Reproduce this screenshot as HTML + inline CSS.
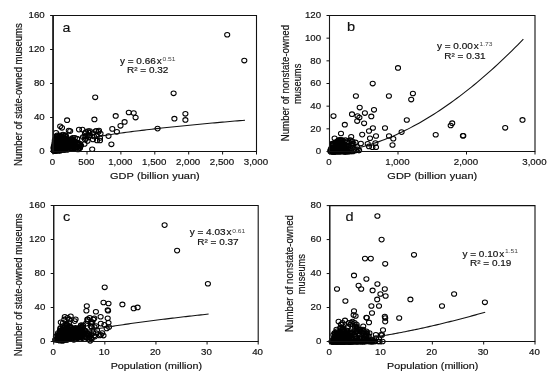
<!DOCTYPE html>
<html><head><meta charset="utf-8"><title>Figure</title>
<style>html,body{margin:0;padding:0;background:#fff}svg{display:block}</style></head>
<body>
<svg width="550" height="381" viewBox="0 0 550 381" font-family="Liberation Sans, sans-serif">
<rect width="550" height="381" fill="#fff"/>
<g opacity="0.999">
<g fill="none" stroke="#000" stroke-width="1.05">
<ellipse cx="59.1" cy="143.85" rx="2.55" ry="2.3"/>
<ellipse cx="59.25" cy="147.25" rx="2.55" ry="2.3"/>
<ellipse cx="56.48" cy="148.1" rx="2.55" ry="2.3"/>
<ellipse cx="72.29" cy="139.6" rx="2.55" ry="2.3"/>
<ellipse cx="71.1" cy="141.3" rx="2.55" ry="2.3"/>
<ellipse cx="63.53" cy="143.85" rx="2.55" ry="2.3"/>
<ellipse cx="54.91" cy="145.55" rx="2.55" ry="2.3"/>
<ellipse cx="64.57" cy="141.3" rx="2.55" ry="2.3"/>
<ellipse cx="54.87" cy="150.65" rx="2.55" ry="2.3"/>
<ellipse cx="56.6" cy="148.1" rx="2.55" ry="2.3"/>
<ellipse cx="62.77" cy="145.55" rx="2.55" ry="2.3"/>
<ellipse cx="64.71" cy="147.25" rx="2.55" ry="2.3"/>
<ellipse cx="62.8" cy="143" rx="2.55" ry="2.3"/>
<ellipse cx="57.35" cy="135.35" rx="2.55" ry="2.3"/>
<ellipse cx="65.07" cy="135.35" rx="2.55" ry="2.3"/>
<ellipse cx="57.5" cy="148.95" rx="2.55" ry="2.3"/>
<ellipse cx="58.67" cy="146.4" rx="2.55" ry="2.3"/>
<ellipse cx="65.86" cy="143" rx="2.55" ry="2.3"/>
<ellipse cx="58.2" cy="148.95" rx="2.55" ry="2.3"/>
<ellipse cx="57.89" cy="139.6" rx="2.55" ry="2.3"/>
<ellipse cx="56.85" cy="146.4" rx="2.55" ry="2.3"/>
<ellipse cx="63.82" cy="148.95" rx="2.55" ry="2.3"/>
<ellipse cx="60.87" cy="136.2" rx="2.55" ry="2.3"/>
<ellipse cx="54.45" cy="148.95" rx="2.55" ry="2.3"/>
<ellipse cx="59.91" cy="148.1" rx="2.55" ry="2.3"/>
<ellipse cx="64.48" cy="144.7" rx="2.55" ry="2.3"/>
<ellipse cx="55.25" cy="144.7" rx="2.55" ry="2.3"/>
<ellipse cx="66.27" cy="137.05" rx="2.55" ry="2.3"/>
<ellipse cx="61.35" cy="148.95" rx="2.55" ry="2.3"/>
<ellipse cx="65.68" cy="146.4" rx="2.55" ry="2.3"/>
<ellipse cx="58.18" cy="149.8" rx="2.55" ry="2.3"/>
<ellipse cx="56.38" cy="148.95" rx="2.55" ry="2.3"/>
<ellipse cx="75.4" cy="148.95" rx="2.55" ry="2.3"/>
<ellipse cx="55.26" cy="147.25" rx="2.55" ry="2.3"/>
<ellipse cx="54.58" cy="150.65" rx="2.55" ry="2.3"/>
<ellipse cx="63.21" cy="147.25" rx="2.55" ry="2.3"/>
<ellipse cx="55.98" cy="143.85" rx="2.55" ry="2.3"/>
<ellipse cx="72.13" cy="142.15" rx="2.55" ry="2.3"/>
<ellipse cx="62.29" cy="143" rx="2.55" ry="2.3"/>
<ellipse cx="65.72" cy="141.3" rx="2.55" ry="2.3"/>
<ellipse cx="64.98" cy="148.95" rx="2.55" ry="2.3"/>
<ellipse cx="64.8" cy="149.8" rx="2.55" ry="2.3"/>
<ellipse cx="57.45" cy="143" rx="2.55" ry="2.3"/>
<ellipse cx="54.7" cy="148.95" rx="2.55" ry="2.3"/>
<ellipse cx="70.84" cy="148.1" rx="2.55" ry="2.3"/>
<ellipse cx="65.02" cy="144.7" rx="2.55" ry="2.3"/>
<ellipse cx="62.93" cy="141.3" rx="2.55" ry="2.3"/>
<ellipse cx="61.36" cy="137.9" rx="2.55" ry="2.3"/>
<ellipse cx="57.35" cy="148.1" rx="2.55" ry="2.3"/>
<ellipse cx="71.18" cy="143" rx="2.55" ry="2.3"/>
<ellipse cx="56.63" cy="143" rx="2.55" ry="2.3"/>
<ellipse cx="79.02" cy="144.7" rx="2.55" ry="2.3"/>
<ellipse cx="55.41" cy="148.1" rx="2.55" ry="2.3"/>
<ellipse cx="59.67" cy="147.25" rx="2.55" ry="2.3"/>
<ellipse cx="77.71" cy="147.25" rx="2.55" ry="2.3"/>
<ellipse cx="74.88" cy="148.1" rx="2.55" ry="2.3"/>
<ellipse cx="56.92" cy="144.7" rx="2.55" ry="2.3"/>
<ellipse cx="63.1" cy="143.85" rx="2.55" ry="2.3"/>
<ellipse cx="61.59" cy="142.15" rx="2.55" ry="2.3"/>
<ellipse cx="59.52" cy="144.7" rx="2.55" ry="2.3"/>
<ellipse cx="65.24" cy="144.7" rx="2.55" ry="2.3"/>
<ellipse cx="67.38" cy="140.45" rx="2.55" ry="2.3"/>
<ellipse cx="62.93" cy="146.4" rx="2.55" ry="2.3"/>
<ellipse cx="58.53" cy="146.4" rx="2.55" ry="2.3"/>
<ellipse cx="69.45" cy="144.7" rx="2.55" ry="2.3"/>
<ellipse cx="53.94" cy="150.65" rx="2.55" ry="2.3"/>
<ellipse cx="62.28" cy="143" rx="2.55" ry="2.3"/>
<ellipse cx="62.23" cy="146.4" rx="2.55" ry="2.3"/>
<ellipse cx="66.12" cy="142.15" rx="2.55" ry="2.3"/>
<ellipse cx="63.19" cy="147.25" rx="2.55" ry="2.3"/>
<ellipse cx="59.95" cy="146.4" rx="2.55" ry="2.3"/>
<ellipse cx="60.17" cy="150.65" rx="2.55" ry="2.3"/>
<ellipse cx="58.03" cy="141.3" rx="2.55" ry="2.3"/>
<ellipse cx="55.86" cy="148.1" rx="2.55" ry="2.3"/>
<ellipse cx="79.59" cy="148.1" rx="2.55" ry="2.3"/>
<ellipse cx="58.62" cy="147.25" rx="2.55" ry="2.3"/>
<ellipse cx="65.77" cy="135.35" rx="2.55" ry="2.3"/>
<ellipse cx="53.86" cy="146.4" rx="2.55" ry="2.3"/>
<ellipse cx="55.28" cy="145.55" rx="2.55" ry="2.3"/>
<ellipse cx="55.2" cy="147.25" rx="2.55" ry="2.3"/>
<ellipse cx="73.69" cy="143.85" rx="2.55" ry="2.3"/>
<ellipse cx="61.87" cy="140.45" rx="2.55" ry="2.3"/>
<ellipse cx="61.51" cy="145.55" rx="2.55" ry="2.3"/>
<ellipse cx="71.28" cy="144.7" rx="2.55" ry="2.3"/>
<ellipse cx="55.91" cy="143.85" rx="2.55" ry="2.3"/>
<ellipse cx="59.05" cy="145.55" rx="2.55" ry="2.3"/>
<ellipse cx="66.68" cy="143" rx="2.55" ry="2.3"/>
<ellipse cx="65.93" cy="148.95" rx="2.55" ry="2.3"/>
<ellipse cx="55.17" cy="146.4" rx="2.55" ry="2.3"/>
<ellipse cx="56.39" cy="149.8" rx="2.55" ry="2.3"/>
<ellipse cx="55.24" cy="143" rx="2.55" ry="2.3"/>
<ellipse cx="56.46" cy="147.25" rx="2.55" ry="2.3"/>
<ellipse cx="55.93" cy="144.7" rx="2.55" ry="2.3"/>
<ellipse cx="56.6" cy="138.75" rx="2.55" ry="2.3"/>
<ellipse cx="70.37" cy="143.85" rx="2.55" ry="2.3"/>
<ellipse cx="54.5" cy="143" rx="2.55" ry="2.3"/>
<ellipse cx="59.97" cy="148.1" rx="2.55" ry="2.3"/>
<ellipse cx="63.57" cy="142.15" rx="2.55" ry="2.3"/>
<ellipse cx="79.75" cy="146.4" rx="2.55" ry="2.3"/>
<ellipse cx="78.73" cy="143" rx="2.55" ry="2.3"/>
<ellipse cx="57.06" cy="142.15" rx="2.55" ry="2.3"/>
<ellipse cx="61.33" cy="144.7" rx="2.55" ry="2.3"/>
<ellipse cx="78.12" cy="143.85" rx="2.55" ry="2.3"/>
<ellipse cx="54.16" cy="149.8" rx="2.55" ry="2.3"/>
<ellipse cx="54.64" cy="145.55" rx="2.55" ry="2.3"/>
<ellipse cx="62.86" cy="147.25" rx="2.55" ry="2.3"/>
<ellipse cx="60.5" cy="141.3" rx="2.55" ry="2.3"/>
<ellipse cx="61.08" cy="136.2" rx="2.55" ry="2.3"/>
<ellipse cx="60.18" cy="139.6" rx="2.55" ry="2.3"/>
<ellipse cx="57.31" cy="143" rx="2.55" ry="2.3"/>
<ellipse cx="54.61" cy="149.8" rx="2.55" ry="2.3"/>
<ellipse cx="54.51" cy="144.7" rx="2.55" ry="2.3"/>
<ellipse cx="55.72" cy="147.25" rx="2.55" ry="2.3"/>
<ellipse cx="59.43" cy="146.4" rx="2.55" ry="2.3"/>
<ellipse cx="57.61" cy="145.55" rx="2.55" ry="2.3"/>
<ellipse cx="60.84" cy="143" rx="2.55" ry="2.3"/>
<ellipse cx="70.56" cy="143.85" rx="2.55" ry="2.3"/>
<ellipse cx="55.66" cy="148.95" rx="2.55" ry="2.3"/>
<ellipse cx="71.68" cy="148.95" rx="2.55" ry="2.3"/>
<ellipse cx="57.59" cy="141.3" rx="2.55" ry="2.3"/>
<ellipse cx="67.73" cy="143.85" rx="2.55" ry="2.3"/>
<ellipse cx="67.89" cy="143" rx="2.55" ry="2.3"/>
<ellipse cx="55.84" cy="149.8" rx="2.55" ry="2.3"/>
<ellipse cx="57.43" cy="142.15" rx="2.55" ry="2.3"/>
<ellipse cx="57.71" cy="148.95" rx="2.55" ry="2.3"/>
<ellipse cx="56.97" cy="149.8" rx="2.55" ry="2.3"/>
<ellipse cx="59.85" cy="148.95" rx="2.55" ry="2.3"/>
<ellipse cx="63.26" cy="149.8" rx="2.55" ry="2.3"/>
<ellipse cx="62.95" cy="147.25" rx="2.55" ry="2.3"/>
<ellipse cx="54.53" cy="146.4" rx="2.55" ry="2.3"/>
<ellipse cx="59" cy="150.65" rx="2.55" ry="2.3"/>
<ellipse cx="56.64" cy="146.4" rx="2.55" ry="2.3"/>
<ellipse cx="58.15" cy="143" rx="2.55" ry="2.3"/>
<ellipse cx="67.18" cy="139.6" rx="2.55" ry="2.3"/>
<ellipse cx="62.94" cy="134.5" rx="2.55" ry="2.3"/>
<ellipse cx="66.17" cy="141.3" rx="2.55" ry="2.3"/>
<ellipse cx="54.37" cy="146.4" rx="2.55" ry="2.3"/>
<ellipse cx="75.8" cy="143.85" rx="2.55" ry="2.3"/>
<ellipse cx="54.77" cy="147.25" rx="2.55" ry="2.3"/>
<ellipse cx="56.49" cy="144.7" rx="2.55" ry="2.3"/>
<ellipse cx="59.83" cy="143" rx="2.55" ry="2.3"/>
<ellipse cx="69.16" cy="147.25" rx="2.55" ry="2.3"/>
<ellipse cx="60.01" cy="144.7" rx="2.55" ry="2.3"/>
<ellipse cx="68.14" cy="143.85" rx="2.55" ry="2.3"/>
<ellipse cx="59.42" cy="148.95" rx="2.55" ry="2.3"/>
<ellipse cx="58.6" cy="141.3" rx="2.55" ry="2.3"/>
<ellipse cx="61.23" cy="148.1" rx="2.55" ry="2.3"/>
<ellipse cx="72.75" cy="137.9" rx="2.55" ry="2.3"/>
<ellipse cx="53.92" cy="148.1" rx="2.55" ry="2.3"/>
<ellipse cx="63.83" cy="144.7" rx="2.55" ry="2.3"/>
<ellipse cx="64.73" cy="149.8" rx="2.55" ry="2.3"/>
<ellipse cx="71.05" cy="141.3" rx="2.55" ry="2.3"/>
<ellipse cx="57.21" cy="139.6" rx="2.55" ry="2.3"/>
<ellipse cx="55.36" cy="148.95" rx="2.55" ry="2.3"/>
<ellipse cx="62.65" cy="143.85" rx="2.55" ry="2.3"/>
<ellipse cx="58.42" cy="148.95" rx="2.55" ry="2.3"/>
<ellipse cx="71.11" cy="148.1" rx="2.55" ry="2.3"/>
<ellipse cx="55.48" cy="138.75" rx="2.55" ry="2.3"/>
<ellipse cx="67.95" cy="147.25" rx="2.55" ry="2.3"/>
<ellipse cx="62.41" cy="149.8" rx="2.55" ry="2.3"/>
<ellipse cx="57.05" cy="147.25" rx="2.55" ry="2.3"/>
<ellipse cx="64.73" cy="147.25" rx="2.55" ry="2.3"/>
<ellipse cx="59.81" cy="143.85" rx="2.55" ry="2.3"/>
<ellipse cx="63.37" cy="141.3" rx="2.55" ry="2.3"/>
<ellipse cx="62.01" cy="146.4" rx="2.55" ry="2.3"/>
<ellipse cx="67.69" cy="143.85" rx="2.55" ry="2.3"/>
<ellipse cx="56.8" cy="148.95" rx="2.55" ry="2.3"/>
<ellipse cx="60.56" cy="146.4" rx="2.55" ry="2.3"/>
<ellipse cx="61.62" cy="145.55" rx="2.55" ry="2.3"/>
<ellipse cx="61.76" cy="145.55" rx="2.55" ry="2.3"/>
<ellipse cx="55.66" cy="146.4" rx="2.55" ry="2.3"/>
<ellipse cx="71.36" cy="139.6" rx="2.55" ry="2.3"/>
<ellipse cx="59.45" cy="143.85" rx="2.55" ry="2.3"/>
<ellipse cx="56.38" cy="150.65" rx="2.55" ry="2.3"/>
<ellipse cx="60.95" cy="148.1" rx="2.55" ry="2.3"/>
<ellipse cx="67.09" cy="148.1" rx="2.55" ry="2.3"/>
<ellipse cx="53.9" cy="150.65" rx="2.55" ry="2.3"/>
<ellipse cx="58.49" cy="149.8" rx="2.55" ry="2.3"/>
<ellipse cx="57" cy="144.7" rx="2.55" ry="2.3"/>
<ellipse cx="64.48" cy="143.85" rx="2.55" ry="2.3"/>
<ellipse cx="60.43" cy="142.15" rx="2.55" ry="2.3"/>
<ellipse cx="56.07" cy="148.1" rx="2.55" ry="2.3"/>
<ellipse cx="66.97" cy="145.55" rx="2.55" ry="2.3"/>
<ellipse cx="71.6" cy="138.75" rx="2.55" ry="2.3"/>
<ellipse cx="69.24" cy="144.7" rx="2.55" ry="2.3"/>
<ellipse cx="74.5" cy="143.85" rx="2.55" ry="2.3"/>
<ellipse cx="58.67" cy="142.15" rx="2.55" ry="2.3"/>
<ellipse cx="70.26" cy="143" rx="2.55" ry="2.3"/>
<ellipse cx="55.87" cy="147.25" rx="2.55" ry="2.3"/>
<ellipse cx="63.22" cy="137.05" rx="2.55" ry="2.3"/>
<ellipse cx="67.61" cy="143.85" rx="2.55" ry="2.3"/>
<ellipse cx="68.51" cy="139.6" rx="2.55" ry="2.3"/>
<ellipse cx="61.99" cy="144.7" rx="2.55" ry="2.3"/>
<ellipse cx="59.16" cy="143" rx="2.55" ry="2.3"/>
<ellipse cx="56.14" cy="148.95" rx="2.55" ry="2.3"/>
<ellipse cx="60.59" cy="148.95" rx="2.55" ry="2.3"/>
<ellipse cx="58.25" cy="150.65" rx="2.55" ry="2.3"/>
<ellipse cx="57.27" cy="144.7" rx="2.55" ry="2.3"/>
<ellipse cx="65.17" cy="144.7" rx="2.55" ry="2.3"/>
<ellipse cx="59.22" cy="149.8" rx="2.55" ry="2.3"/>
<ellipse cx="64.66" cy="136.2" rx="2.55" ry="2.3"/>
<ellipse cx="56.62" cy="147.25" rx="2.55" ry="2.3"/>
<ellipse cx="54.69" cy="146.4" rx="2.55" ry="2.3"/>
<ellipse cx="69.61" cy="148.95" rx="2.55" ry="2.3"/>
<ellipse cx="60.23" cy="142.15" rx="2.55" ry="2.3"/>
<ellipse cx="54.77" cy="150.65" rx="2.55" ry="2.3"/>
<ellipse cx="56.12" cy="148.95" rx="2.55" ry="2.3"/>
<ellipse cx="55.36" cy="148.1" rx="2.55" ry="2.3"/>
<ellipse cx="62.32" cy="141.3" rx="2.55" ry="2.3"/>
<ellipse cx="73.16" cy="148.1" rx="2.55" ry="2.3"/>
<ellipse cx="57.95" cy="148.95" rx="2.55" ry="2.3"/>
<ellipse cx="56.09" cy="147.25" rx="2.55" ry="2.3"/>
<ellipse cx="60.59" cy="143" rx="2.55" ry="2.3"/>
<ellipse cx="55.04" cy="149.8" rx="2.55" ry="2.3"/>
<ellipse cx="60.41" cy="146.4" rx="2.55" ry="2.3"/>
<ellipse cx="58.82" cy="146.4" rx="2.55" ry="2.3"/>
<ellipse cx="57.01" cy="143.85" rx="2.55" ry="2.3"/>
<ellipse cx="63.18" cy="145.55" rx="2.55" ry="2.3"/>
<ellipse cx="57.31" cy="147.25" rx="2.55" ry="2.3"/>
<ellipse cx="53.84" cy="150.65" rx="2.55" ry="2.3"/>
<ellipse cx="60.8" cy="149.8" rx="2.55" ry="2.3"/>
<ellipse cx="61.94" cy="144.7" rx="2.55" ry="2.3"/>
<ellipse cx="55.41" cy="148.1" rx="2.55" ry="2.3"/>
<ellipse cx="58.81" cy="143.85" rx="2.55" ry="2.3"/>
<ellipse cx="65.65" cy="144.7" rx="2.55" ry="2.3"/>
<ellipse cx="56.72" cy="147.25" rx="2.55" ry="2.3"/>
<ellipse cx="60.15" cy="142.15" rx="2.55" ry="2.3"/>
<ellipse cx="62.68" cy="147.25" rx="2.55" ry="2.3"/>
<ellipse cx="55.46" cy="148.95" rx="2.55" ry="2.3"/>
<ellipse cx="57.07" cy="149.8" rx="2.55" ry="2.3"/>
<ellipse cx="59.86" cy="147.25" rx="2.55" ry="2.3"/>
<ellipse cx="61.26" cy="143" rx="2.55" ry="2.3"/>
<ellipse cx="58.77" cy="139.6" rx="2.55" ry="2.3"/>
<ellipse cx="61.37" cy="137.9" rx="2.55" ry="2.3"/>
<ellipse cx="54.09" cy="149.8" rx="2.55" ry="2.3"/>
<ellipse cx="62.3" cy="141.3" rx="2.55" ry="2.3"/>
<ellipse cx="62.91" cy="135.35" rx="2.55" ry="2.3"/>
<ellipse cx="64.61" cy="145.55" rx="2.55" ry="2.3"/>
<ellipse cx="64.6" cy="148.1" rx="2.55" ry="2.3"/>
<ellipse cx="73.46" cy="147.25" rx="2.55" ry="2.3"/>
<ellipse cx="59.27" cy="145.55" rx="2.55" ry="2.3"/>
<ellipse cx="73.14" cy="142.15" rx="2.55" ry="2.3"/>
<ellipse cx="56.85" cy="146.4" rx="2.55" ry="2.3"/>
<ellipse cx="65.33" cy="139.6" rx="2.55" ry="2.3"/>
<ellipse cx="56.97" cy="136.2" rx="2.55" ry="2.3"/>
<ellipse cx="60.67" cy="144.7" rx="2.55" ry="2.3"/>
<ellipse cx="58.28" cy="137.9" rx="2.55" ry="2.3"/>
<ellipse cx="57.2" cy="143.85" rx="2.55" ry="2.3"/>
<ellipse cx="58.06" cy="148.1" rx="2.55" ry="2.3"/>
<ellipse cx="60.49" cy="148.1" rx="2.55" ry="2.3"/>
<ellipse cx="67.97" cy="143.85" rx="2.55" ry="2.3"/>
<ellipse cx="72.61" cy="145.55" rx="2.55" ry="2.3"/>
<ellipse cx="60.58" cy="141.3" rx="2.55" ry="2.3"/>
<ellipse cx="57.4" cy="147.25" rx="2.55" ry="2.3"/>
<ellipse cx="54.79" cy="140.45" rx="2.55" ry="2.3"/>
<ellipse cx="76.91" cy="147.25" rx="2.55" ry="2.3"/>
<ellipse cx="55.17" cy="150.65" rx="2.55" ry="2.3"/>
<ellipse cx="73.36" cy="144.7" rx="2.55" ry="2.3"/>
<ellipse cx="60.18" cy="147.25" rx="2.55" ry="2.3"/>
<ellipse cx="59.83" cy="148.95" rx="2.55" ry="2.3"/>
<ellipse cx="60.71" cy="148.95" rx="2.55" ry="2.3"/>
<ellipse cx="60.12" cy="144.7" rx="2.55" ry="2.3"/>
<ellipse cx="64.2" cy="145.55" rx="2.55" ry="2.3"/>
<ellipse cx="56.56" cy="146.4" rx="2.55" ry="2.3"/>
<ellipse cx="58.04" cy="136.2" rx="2.55" ry="2.3"/>
<ellipse cx="67.42" cy="144.7" rx="2.55" ry="2.3"/>
<ellipse cx="58.1" cy="148.1" rx="2.55" ry="2.3"/>
<ellipse cx="56.46" cy="148.1" rx="2.55" ry="2.3"/>
<ellipse cx="62.68" cy="142.15" rx="2.55" ry="2.3"/>
<ellipse cx="57.2" cy="146.4" rx="2.55" ry="2.3"/>
<ellipse cx="54.63" cy="148.95" rx="2.55" ry="2.3"/>
<ellipse cx="61.71" cy="144.7" rx="2.55" ry="2.3"/>
<ellipse cx="63.65" cy="145.55" rx="2.55" ry="2.3"/>
<ellipse cx="63.28" cy="144.7" rx="2.55" ry="2.3"/>
<ellipse cx="67.47" cy="149.8" rx="2.55" ry="2.3"/>
<ellipse cx="56.61" cy="147.25" rx="2.55" ry="2.3"/>
<ellipse cx="56.2" cy="149.8" rx="2.55" ry="2.3"/>
<ellipse cx="65.82" cy="147.25" rx="2.55" ry="2.3"/>
<ellipse cx="65.89" cy="138.75" rx="2.55" ry="2.3"/>
<ellipse cx="62.78" cy="142.15" rx="2.55" ry="2.3"/>
<ellipse cx="59.92" cy="148.95" rx="2.55" ry="2.3"/>
<ellipse cx="60.37" cy="143.85" rx="2.55" ry="2.3"/>
<ellipse cx="57.86" cy="147.25" rx="2.55" ry="2.3"/>
<ellipse cx="67.2" cy="147.25" rx="2.55" ry="2.3"/>
<ellipse cx="57.75" cy="146.4" rx="2.55" ry="2.3"/>
<ellipse cx="59.66" cy="135.35" rx="2.55" ry="2.3"/>
<ellipse cx="62.86" cy="138.75" rx="2.55" ry="2.3"/>
<ellipse cx="57.25" cy="147.25" rx="2.55" ry="2.3"/>
<ellipse cx="60.5" cy="149.8" rx="2.55" ry="2.3"/>
<ellipse cx="54.79" cy="146.4" rx="2.55" ry="2.3"/>
<ellipse cx="59.77" cy="143.85" rx="2.55" ry="2.3"/>
<ellipse cx="63.28" cy="148.95" rx="2.55" ry="2.3"/>
<ellipse cx="59.33" cy="136.2" rx="2.55" ry="2.3"/>
<ellipse cx="57.68" cy="148.95" rx="2.55" ry="2.3"/>
<ellipse cx="55.45" cy="149.8" rx="2.55" ry="2.3"/>
<ellipse cx="63.84" cy="143" rx="2.55" ry="2.3"/>
<ellipse cx="57.9" cy="148.1" rx="2.55" ry="2.3"/>
<ellipse cx="64.79" cy="141.3" rx="2.55" ry="2.3"/>
<ellipse cx="56.25" cy="149.8" rx="2.55" ry="2.3"/>
<ellipse cx="62.65" cy="143.85" rx="2.55" ry="2.3"/>
<ellipse cx="55.56" cy="148.1" rx="2.55" ry="2.3"/>
<ellipse cx="57.8" cy="144.7" rx="2.55" ry="2.3"/>
<ellipse cx="59.85" cy="146.4" rx="2.55" ry="2.3"/>
<ellipse cx="58.62" cy="140.45" rx="2.55" ry="2.3"/>
<ellipse cx="77.42" cy="143.85" rx="2.55" ry="2.3"/>
<ellipse cx="68.41" cy="147.25" rx="2.55" ry="2.3"/>
<ellipse cx="61.03" cy="141.3" rx="2.55" ry="2.3"/>
<ellipse cx="80.11" cy="143.85" rx="2.55" ry="2.3"/>
<ellipse cx="60.1" cy="144.7" rx="2.55" ry="2.3"/>
<ellipse cx="55.19" cy="148.1" rx="2.55" ry="2.3"/>
<ellipse cx="57.3" cy="145.55" rx="2.55" ry="2.3"/>
<ellipse cx="55.95" cy="150.65" rx="2.55" ry="2.3"/>
<ellipse cx="60.8" cy="144.7" rx="2.55" ry="2.3"/>
<ellipse cx="57.78" cy="142.15" rx="2.55" ry="2.3"/>
<ellipse cx="59.01" cy="148.1" rx="2.55" ry="2.3"/>
<ellipse cx="64.29" cy="148.95" rx="2.55" ry="2.3"/>
<ellipse cx="57.29" cy="147.25" rx="2.55" ry="2.3"/>
<ellipse cx="68.45" cy="144.7" rx="2.55" ry="2.3"/>
<ellipse cx="62.79" cy="147.25" rx="2.55" ry="2.3"/>
<ellipse cx="57.41" cy="146.4" rx="2.55" ry="2.3"/>
<ellipse cx="61.74" cy="138.75" rx="2.55" ry="2.3"/>
<ellipse cx="55.71" cy="150.65" rx="2.55" ry="2.3"/>
<ellipse cx="65.58" cy="138.75" rx="2.55" ry="2.3"/>
<ellipse cx="61.98" cy="143.85" rx="2.55" ry="2.3"/>
<ellipse cx="69.53" cy="141.3" rx="2.55" ry="2.3"/>
<ellipse cx="55.7" cy="148.1" rx="2.55" ry="2.3"/>
<ellipse cx="53.5" cy="148.1" rx="2.55" ry="2.3"/>
<ellipse cx="58.53" cy="141.3" rx="2.55" ry="2.3"/>
<ellipse cx="60.52" cy="146.4" rx="2.55" ry="2.3"/>
<ellipse cx="57.98" cy="148.95" rx="2.55" ry="2.3"/>
<ellipse cx="74.92" cy="141.3" rx="2.55" ry="2.3"/>
<ellipse cx="68.71" cy="139.6" rx="2.55" ry="2.3"/>
<ellipse cx="72.97" cy="144.7" rx="2.55" ry="2.3"/>
<ellipse cx="70.17" cy="131.1" rx="2.55" ry="2.3"/>
<ellipse cx="90.03" cy="135.35" rx="2.55" ry="2.3"/>
<ellipse cx="86.02" cy="131.95" rx="2.55" ry="2.3"/>
<ellipse cx="86.04" cy="138.75" rx="2.55" ry="2.3"/>
<ellipse cx="77.16" cy="138.75" rx="2.55" ry="2.3"/>
<ellipse cx="74.9" cy="137.9" rx="2.55" ry="2.3"/>
<ellipse cx="74.71" cy="141.3" rx="2.55" ry="2.3"/>
<ellipse cx="88.12" cy="131.1" rx="2.55" ry="2.3"/>
<ellipse cx="85.76" cy="136.2" rx="2.55" ry="2.3"/>
<ellipse cx="84.53" cy="136.2" rx="2.55" ry="2.3"/>
<ellipse cx="69.3" cy="141.3" rx="2.55" ry="2.3"/>
<ellipse cx="88.77" cy="137.05" rx="2.55" ry="2.3"/>
<ellipse cx="74.18" cy="141.3" rx="2.55" ry="2.3"/>
<ellipse cx="72.62" cy="141.3" rx="2.55" ry="2.3"/>
<ellipse cx="72.88" cy="143" rx="2.55" ry="2.3"/>
<ellipse cx="68.71" cy="141.3" rx="2.55" ry="2.3"/>
<ellipse cx="81.07" cy="145.55" rx="2.55" ry="2.3"/>
<ellipse cx="89.43" cy="132.8" rx="2.55" ry="2.3"/>
<ellipse cx="77.2" cy="138.75" rx="2.55" ry="2.3"/>
<ellipse cx="89.82" cy="131.1" rx="2.55" ry="2.3"/>
<ellipse cx="72.4" cy="142.15" rx="2.55" ry="2.3"/>
<ellipse cx="76.16" cy="146.4" rx="2.55" ry="2.3"/>
<ellipse cx="71.15" cy="140.45" rx="2.55" ry="2.3"/>
<ellipse cx="93" cy="133" rx="2.55" ry="2.3"/>
<ellipse cx="96" cy="131" rx="2.55" ry="2.3"/>
<ellipse cx="99" cy="130.5" rx="2.55" ry="2.3"/>
<ellipse cx="100.5" cy="133.5" rx="2.55" ry="2.3"/>
<ellipse cx="94" cy="136.5" rx="2.55" ry="2.3"/>
<ellipse cx="97" cy="136" rx="2.55" ry="2.3"/>
<ellipse cx="100" cy="138" rx="2.55" ry="2.3"/>
<ellipse cx="93" cy="139.5" rx="2.55" ry="2.3"/>
<ellipse cx="97" cy="140.5" rx="2.55" ry="2.3"/>
<ellipse cx="100" cy="140.5" rx="2.55" ry="2.3"/>
<ellipse cx="85" cy="133" rx="2.55" ry="2.3"/>
<ellipse cx="87.5" cy="135.5" rx="2.55" ry="2.3"/>
<ellipse cx="83" cy="137" rx="2.55" ry="2.3"/>
<ellipse cx="85" cy="139.5" rx="2.55" ry="2.3"/>
<ellipse cx="87.5" cy="141" rx="2.55" ry="2.3"/>
<ellipse cx="84.5" cy="144" rx="2.55" ry="2.3"/>
<ellipse cx="80" cy="148" rx="2.55" ry="2.3"/>
<ellipse cx="78" cy="149.5" rx="2.55" ry="2.3"/>
<ellipse cx="95.2" cy="97.3" rx="2.55" ry="2.3"/>
<ellipse cx="67.1" cy="120.2" rx="2.55" ry="2.3"/>
<ellipse cx="94.4" cy="119.4" rx="2.55" ry="2.3"/>
<ellipse cx="115.7" cy="115.9" rx="2.55" ry="2.3"/>
<ellipse cx="128.8" cy="112.5" rx="2.55" ry="2.3"/>
<ellipse cx="124.6" cy="121.9" rx="2.55" ry="2.3"/>
<ellipse cx="120.5" cy="125.8" rx="2.55" ry="2.3"/>
<ellipse cx="112.3" cy="128.9" rx="2.55" ry="2.3"/>
<ellipse cx="116.9" cy="131.8" rx="2.55" ry="2.3"/>
<ellipse cx="108.5" cy="136.1" rx="2.55" ry="2.3"/>
<ellipse cx="111.4" cy="144.3" rx="2.55" ry="2.3"/>
<ellipse cx="92.2" cy="149.2" rx="2.55" ry="2.3"/>
<ellipse cx="60.2" cy="126.3" rx="2.55" ry="2.3"/>
<ellipse cx="62" cy="127.8" rx="2.55" ry="2.3"/>
<ellipse cx="68.8" cy="130.6" rx="2.55" ry="2.3"/>
<ellipse cx="79" cy="129.6" rx="2.55" ry="2.3"/>
<ellipse cx="82.4" cy="129.6" rx="2.55" ry="2.3"/>
<ellipse cx="96" cy="131" rx="2.55" ry="2.3"/>
<ellipse cx="98.6" cy="131.8" rx="2.55" ry="2.3"/>
<ellipse cx="56" cy="132.7" rx="2.55" ry="2.3"/>
<ellipse cx="227.2" cy="34.7" rx="2.55" ry="2.3"/>
<ellipse cx="244.3" cy="60.6" rx="2.55" ry="2.3"/>
<ellipse cx="173.6" cy="93.3" rx="2.55" ry="2.3"/>
<ellipse cx="174.4" cy="118.7" rx="2.55" ry="2.3"/>
<ellipse cx="185.4" cy="113.8" rx="2.55" ry="2.3"/>
<ellipse cx="185.4" cy="119.9" rx="2.55" ry="2.3"/>
<ellipse cx="157.6" cy="128.6" rx="2.55" ry="2.3"/>
<ellipse cx="133.7" cy="113" rx="2.55" ry="2.3"/>
<ellipse cx="135.6" cy="117.6" rx="2.55" ry="2.3"/>
</g>
<path d="M93.78,137.28 L96.3,136.84 L98.82,136.41 L101.34,135.99 L103.86,135.59 L106.38,135.19 L108.9,134.8 L111.42,134.42 L113.94,134.05 L116.46,133.69 L118.98,133.33 L121.5,132.98 L124.02,132.64 L126.54,132.3 L129.06,131.97 L131.58,131.64 L134.1,131.32 L136.62,131 L139.14,130.69 L141.66,130.39 L144.18,130.08 L146.7,129.78 L149.22,129.49 L151.74,129.2 L154.26,128.91 L156.78,128.62 L159.3,128.34 L161.82,128.07 L164.34,127.79 L166.86,127.52 L169.38,127.25 L171.9,126.99 L174.42,126.72 L176.94,126.46 L179.46,126.21 L181.98,125.95 L184.5,125.7 L187.02,125.45 L189.54,125.2 L192.06,124.96 L194.58,124.71 L197.1,124.47 L199.62,124.23 L202.14,123.99 L204.66,123.76 L207.18,123.53 L209.7,123.29 L212.22,123.06 L214.74,122.84 L217.26,122.61 L219.77,122.39 L222.29,122.16 L224.81,121.94 L227.33,121.72 L229.85,121.5 L232.37,121.29 L234.89,121.07 L237.41,120.86 L239.93,120.65 L242.45,120.44 L244.97,120.23" fill="none" stroke="#111" stroke-width="1.1"/>
<path d="M53.1,151.5 L53.1,15.5 L256.5,15.5 L256.5,151.5 Z" fill="none" stroke="#111" stroke-width="1.1"/>
<path d="M53.1,152.0 L53.1,15.0" fill="none" stroke="#1a1a1a" stroke-width="1.6"/>
<text transform="translate(52.5,165) scale(1,0.92)" font-size="9.7" text-anchor="middle" fill="#111" stroke="#111" stroke-width="0.2" >0</text>
<text transform="translate(86.4,165) scale(1,0.92)" font-size="9.7" text-anchor="middle" fill="#111" stroke="#111" stroke-width="0.2" >500</text>
<text transform="translate(120.3,165) scale(1,0.92)" font-size="9.7" text-anchor="middle" fill="#111" stroke="#111" stroke-width="0.2" >1,000</text>
<text transform="translate(154.2,165) scale(1,0.92)" font-size="9.7" text-anchor="middle" fill="#111" stroke="#111" stroke-width="0.2" >1,500</text>
<text transform="translate(188.1,165) scale(1,0.92)" font-size="9.7" text-anchor="middle" fill="#111" stroke="#111" stroke-width="0.2" >2,000</text>
<text transform="translate(222,165) scale(1,0.92)" font-size="9.7" text-anchor="middle" fill="#111" stroke="#111" stroke-width="0.2" >2,500</text>
<text transform="translate(255.9,165) scale(1,0.92)" font-size="9.7" text-anchor="middle" fill="#111" stroke="#111" stroke-width="0.2" >3,000</text>
<text transform="translate(44.7,154.2) scale(1,0.92)" font-size="9.7" text-anchor="end" fill="#111" stroke="#111" stroke-width="0.2" >0</text>
<text transform="translate(44.7,120.2) scale(1,0.92)" font-size="9.7" text-anchor="end" fill="#111" stroke="#111" stroke-width="0.2" >40</text>
<text transform="translate(44.7,86.2) scale(1,0.92)" font-size="9.7" text-anchor="end" fill="#111" stroke="#111" stroke-width="0.2" >80</text>
<text transform="translate(44.7,52.2) scale(1,0.92)" font-size="9.7" text-anchor="end" fill="#111" stroke="#111" stroke-width="0.2" >120</text>
<text transform="translate(44.7,18.2) scale(1,0.92)" font-size="9.7" text-anchor="end" fill="#111" stroke="#111" stroke-width="0.2" >160</text>
<path d="M53.1,151.5 v3 M87,151.5 v3 M120.9,151.5 v3 M154.8,151.5 v3 M188.7,151.5 v3 M222.6,151.5 v3 M256.5,151.5 v3 M53.1,151.5 h-3 M53.1,117.5 h-3 M53.1,83.5 h-3 M53.1,49.5 h-3 M53.1,15.5 h-3" fill="none" stroke="#111" stroke-width="1"/>
<text transform="translate(154.8,179.1) scale(1,0.88)" font-size="11" text-anchor="middle" fill="#111" stroke="#111" stroke-width="0.2" word-spacing="0.4">GDP (billion yuan)</text>
<text transform="translate(22.1,165.9) rotate(-90)" font-size="10.5" textLength="142.7" lengthAdjust="spacingAndGlyphs" fill="#111" stroke="#111" stroke-width="0.2">Number of state-owned museums</text>
<text transform="translate(62.5,31.8) scale(1,0.9)" font-size="14.2" text-anchor="start" fill="#111" stroke="#111" stroke-width="0.2" >a</text>
<text transform="translate(120,63.7) scale(1,0.86)" font-size="10" text-anchor="start" fill="#111" stroke="#111" stroke-width="0.2" >y = 0.66<tspan dx="1">x</tspan><tspan font-size="6.7" dx="0.7" dy="-2.85" fill="#444" stroke="none">0.51</tspan></text>
<text transform="translate(127,73.4) scale(1,0.86)" font-size="10" text-anchor="start" fill="#111" stroke="#111" stroke-width="0.2" >R² = 0.32</text>
<g fill="none" stroke="#000" stroke-width="1.05">
<ellipse cx="343.49" cy="150.37" rx="2.55" ry="2.3"/>
<ellipse cx="340.01" cy="150.37" rx="2.55" ry="2.3"/>
<ellipse cx="335.83" cy="144.7" rx="2.55" ry="2.3"/>
<ellipse cx="344.12" cy="144.7" rx="2.55" ry="2.3"/>
<ellipse cx="338.45" cy="150.37" rx="2.55" ry="2.3"/>
<ellipse cx="334.99" cy="149.23" rx="2.55" ry="2.3"/>
<ellipse cx="341.05" cy="145.83" rx="2.55" ry="2.3"/>
<ellipse cx="340.71" cy="140.17" rx="2.55" ry="2.3"/>
<ellipse cx="344.42" cy="150.37" rx="2.55" ry="2.3"/>
<ellipse cx="333.03" cy="150.37" rx="2.55" ry="2.3"/>
<ellipse cx="347.78" cy="151.5" rx="2.55" ry="2.3"/>
<ellipse cx="336.11" cy="142.43" rx="2.55" ry="2.3"/>
<ellipse cx="338.04" cy="151.5" rx="2.55" ry="2.3"/>
<ellipse cx="338.98" cy="143.57" rx="2.55" ry="2.3"/>
<ellipse cx="339.52" cy="145.83" rx="2.55" ry="2.3"/>
<ellipse cx="338.64" cy="140.17" rx="2.55" ry="2.3"/>
<ellipse cx="348.66" cy="151.5" rx="2.55" ry="2.3"/>
<ellipse cx="331.39" cy="149.23" rx="2.55" ry="2.3"/>
<ellipse cx="340.48" cy="146.97" rx="2.55" ry="2.3"/>
<ellipse cx="342.83" cy="143.57" rx="2.55" ry="2.3"/>
<ellipse cx="331.13" cy="150.37" rx="2.55" ry="2.3"/>
<ellipse cx="346.03" cy="148.1" rx="2.55" ry="2.3"/>
<ellipse cx="342.22" cy="150.37" rx="2.55" ry="2.3"/>
<ellipse cx="336.81" cy="151.5" rx="2.55" ry="2.3"/>
<ellipse cx="342.29" cy="143.57" rx="2.55" ry="2.3"/>
<ellipse cx="332.77" cy="151.5" rx="2.55" ry="2.3"/>
<ellipse cx="342.33" cy="149.23" rx="2.55" ry="2.3"/>
<ellipse cx="336.45" cy="150.37" rx="2.55" ry="2.3"/>
<ellipse cx="336.14" cy="150.37" rx="2.55" ry="2.3"/>
<ellipse cx="336.41" cy="149.23" rx="2.55" ry="2.3"/>
<ellipse cx="334.96" cy="150.37" rx="2.55" ry="2.3"/>
<ellipse cx="360.85" cy="143.57" rx="2.55" ry="2.3"/>
<ellipse cx="343.41" cy="151.5" rx="2.55" ry="2.3"/>
<ellipse cx="334.45" cy="149.23" rx="2.55" ry="2.3"/>
<ellipse cx="334.07" cy="151.5" rx="2.55" ry="2.3"/>
<ellipse cx="335.94" cy="146.97" rx="2.55" ry="2.3"/>
<ellipse cx="333.56" cy="150.37" rx="2.55" ry="2.3"/>
<ellipse cx="339.57" cy="140.17" rx="2.55" ry="2.3"/>
<ellipse cx="359.13" cy="150.37" rx="2.55" ry="2.3"/>
<ellipse cx="333.27" cy="151.5" rx="2.55" ry="2.3"/>
<ellipse cx="347.3" cy="142.43" rx="2.55" ry="2.3"/>
<ellipse cx="336.91" cy="151.5" rx="2.55" ry="2.3"/>
<ellipse cx="330.6" cy="150.37" rx="2.55" ry="2.3"/>
<ellipse cx="336.67" cy="149.23" rx="2.55" ry="2.3"/>
<ellipse cx="333.63" cy="150.37" rx="2.55" ry="2.3"/>
<ellipse cx="333.46" cy="148.1" rx="2.55" ry="2.3"/>
<ellipse cx="344.85" cy="151.5" rx="2.55" ry="2.3"/>
<ellipse cx="337.61" cy="150.37" rx="2.55" ry="2.3"/>
<ellipse cx="336.19" cy="144.7" rx="2.55" ry="2.3"/>
<ellipse cx="332.58" cy="150.37" rx="2.55" ry="2.3"/>
<ellipse cx="332.19" cy="150.37" rx="2.55" ry="2.3"/>
<ellipse cx="345.74" cy="151.5" rx="2.55" ry="2.3"/>
<ellipse cx="348.24" cy="150.37" rx="2.55" ry="2.3"/>
<ellipse cx="334.06" cy="150.37" rx="2.55" ry="2.3"/>
<ellipse cx="333.03" cy="149.23" rx="2.55" ry="2.3"/>
<ellipse cx="340.22" cy="149.23" rx="2.55" ry="2.3"/>
<ellipse cx="357.51" cy="149.23" rx="2.55" ry="2.3"/>
<ellipse cx="336.76" cy="150.37" rx="2.55" ry="2.3"/>
<ellipse cx="333.67" cy="148.1" rx="2.55" ry="2.3"/>
<ellipse cx="338.87" cy="150.37" rx="2.55" ry="2.3"/>
<ellipse cx="335.57" cy="149.23" rx="2.55" ry="2.3"/>
<ellipse cx="334.74" cy="151.5" rx="2.55" ry="2.3"/>
<ellipse cx="334.91" cy="149.23" rx="2.55" ry="2.3"/>
<ellipse cx="331.71" cy="150.37" rx="2.55" ry="2.3"/>
<ellipse cx="332.82" cy="151.5" rx="2.55" ry="2.3"/>
<ellipse cx="344.55" cy="151.5" rx="2.55" ry="2.3"/>
<ellipse cx="333.61" cy="151.5" rx="2.55" ry="2.3"/>
<ellipse cx="332.47" cy="143.57" rx="2.55" ry="2.3"/>
<ellipse cx="331.41" cy="150.37" rx="2.55" ry="2.3"/>
<ellipse cx="334.47" cy="150.37" rx="2.55" ry="2.3"/>
<ellipse cx="333.04" cy="144.7" rx="2.55" ry="2.3"/>
<ellipse cx="346.1" cy="150.37" rx="2.55" ry="2.3"/>
<ellipse cx="332.53" cy="150.37" rx="2.55" ry="2.3"/>
<ellipse cx="340.63" cy="150.37" rx="2.55" ry="2.3"/>
<ellipse cx="334.28" cy="150.37" rx="2.55" ry="2.3"/>
<ellipse cx="352.3" cy="141.3" rx="2.55" ry="2.3"/>
<ellipse cx="341.2" cy="145.83" rx="2.55" ry="2.3"/>
<ellipse cx="335.82" cy="142.43" rx="2.55" ry="2.3"/>
<ellipse cx="334.31" cy="151.5" rx="2.55" ry="2.3"/>
<ellipse cx="333.98" cy="151.5" rx="2.55" ry="2.3"/>
<ellipse cx="336.46" cy="151.5" rx="2.55" ry="2.3"/>
<ellipse cx="354.31" cy="149.23" rx="2.55" ry="2.3"/>
<ellipse cx="338.3" cy="146.97" rx="2.55" ry="2.3"/>
<ellipse cx="333.79" cy="149.23" rx="2.55" ry="2.3"/>
<ellipse cx="330.86" cy="149.23" rx="2.55" ry="2.3"/>
<ellipse cx="338.56" cy="150.37" rx="2.55" ry="2.3"/>
<ellipse cx="344.75" cy="151.5" rx="2.55" ry="2.3"/>
<ellipse cx="355.52" cy="142.43" rx="2.55" ry="2.3"/>
<ellipse cx="342.2" cy="143.57" rx="2.55" ry="2.3"/>
<ellipse cx="332.14" cy="149.23" rx="2.55" ry="2.3"/>
<ellipse cx="341.93" cy="142.43" rx="2.55" ry="2.3"/>
<ellipse cx="344.71" cy="150.37" rx="2.55" ry="2.3"/>
<ellipse cx="331.88" cy="149.23" rx="2.55" ry="2.3"/>
<ellipse cx="332.94" cy="151.5" rx="2.55" ry="2.3"/>
<ellipse cx="340.15" cy="148.1" rx="2.55" ry="2.3"/>
<ellipse cx="333.04" cy="144.7" rx="2.55" ry="2.3"/>
<ellipse cx="342.67" cy="149.23" rx="2.55" ry="2.3"/>
<ellipse cx="331.06" cy="150.37" rx="2.55" ry="2.3"/>
<ellipse cx="350.74" cy="151.5" rx="2.55" ry="2.3"/>
<ellipse cx="341.66" cy="151.5" rx="2.55" ry="2.3"/>
<ellipse cx="341.53" cy="141.3" rx="2.55" ry="2.3"/>
<ellipse cx="332.16" cy="145.83" rx="2.55" ry="2.3"/>
<ellipse cx="336.88" cy="150.37" rx="2.55" ry="2.3"/>
<ellipse cx="336.66" cy="146.97" rx="2.55" ry="2.3"/>
<ellipse cx="338.48" cy="146.97" rx="2.55" ry="2.3"/>
<ellipse cx="333.21" cy="146.97" rx="2.55" ry="2.3"/>
<ellipse cx="339.38" cy="150.37" rx="2.55" ry="2.3"/>
<ellipse cx="347.52" cy="151.5" rx="2.55" ry="2.3"/>
<ellipse cx="343.54" cy="145.83" rx="2.55" ry="2.3"/>
<ellipse cx="341.61" cy="150.37" rx="2.55" ry="2.3"/>
<ellipse cx="338.79" cy="149.23" rx="2.55" ry="2.3"/>
<ellipse cx="332.11" cy="150.37" rx="2.55" ry="2.3"/>
<ellipse cx="338.85" cy="150.37" rx="2.55" ry="2.3"/>
<ellipse cx="338.52" cy="149.23" rx="2.55" ry="2.3"/>
<ellipse cx="335.18" cy="148.1" rx="2.55" ry="2.3"/>
<ellipse cx="335.29" cy="149.23" rx="2.55" ry="2.3"/>
<ellipse cx="337.93" cy="142.43" rx="2.55" ry="2.3"/>
<ellipse cx="333.59" cy="150.37" rx="2.55" ry="2.3"/>
<ellipse cx="339.39" cy="146.97" rx="2.55" ry="2.3"/>
<ellipse cx="336.73" cy="150.37" rx="2.55" ry="2.3"/>
<ellipse cx="344.99" cy="151.5" rx="2.55" ry="2.3"/>
<ellipse cx="338.59" cy="151.5" rx="2.55" ry="2.3"/>
<ellipse cx="353.4" cy="143.57" rx="2.55" ry="2.3"/>
<ellipse cx="339.92" cy="148.1" rx="2.55" ry="2.3"/>
<ellipse cx="333.05" cy="143.57" rx="2.55" ry="2.3"/>
<ellipse cx="346.59" cy="149.23" rx="2.55" ry="2.3"/>
<ellipse cx="338.95" cy="144.7" rx="2.55" ry="2.3"/>
<ellipse cx="339.38" cy="149.23" rx="2.55" ry="2.3"/>
<ellipse cx="335.65" cy="148.1" rx="2.55" ry="2.3"/>
<ellipse cx="333.18" cy="150.37" rx="2.55" ry="2.3"/>
<ellipse cx="334.15" cy="149.23" rx="2.55" ry="2.3"/>
<ellipse cx="343.69" cy="145.83" rx="2.55" ry="2.3"/>
<ellipse cx="352.29" cy="143.57" rx="2.55" ry="2.3"/>
<ellipse cx="331.65" cy="150.37" rx="2.55" ry="2.3"/>
<ellipse cx="345.98" cy="150.37" rx="2.55" ry="2.3"/>
<ellipse cx="332.21" cy="151.5" rx="2.55" ry="2.3"/>
<ellipse cx="334.35" cy="151.5" rx="2.55" ry="2.3"/>
<ellipse cx="343.03" cy="146.97" rx="2.55" ry="2.3"/>
<ellipse cx="332.75" cy="150.37" rx="2.55" ry="2.3"/>
<ellipse cx="336.84" cy="150.37" rx="2.55" ry="2.3"/>
<ellipse cx="333.62" cy="151.5" rx="2.55" ry="2.3"/>
<ellipse cx="337.14" cy="149.23" rx="2.55" ry="2.3"/>
<ellipse cx="340.63" cy="144.7" rx="2.55" ry="2.3"/>
<ellipse cx="342.26" cy="140.17" rx="2.55" ry="2.3"/>
<ellipse cx="340.18" cy="148.1" rx="2.55" ry="2.3"/>
<ellipse cx="332.98" cy="150.37" rx="2.55" ry="2.3"/>
<ellipse cx="339.42" cy="150.37" rx="2.55" ry="2.3"/>
<ellipse cx="349.07" cy="149.23" rx="2.55" ry="2.3"/>
<ellipse cx="343.79" cy="148.1" rx="2.55" ry="2.3"/>
<ellipse cx="332.77" cy="146.97" rx="2.55" ry="2.3"/>
<ellipse cx="332.69" cy="150.37" rx="2.55" ry="2.3"/>
<ellipse cx="340.49" cy="142.43" rx="2.55" ry="2.3"/>
<ellipse cx="344.35" cy="146.97" rx="2.55" ry="2.3"/>
<ellipse cx="332.27" cy="150.37" rx="2.55" ry="2.3"/>
<ellipse cx="343.23" cy="149.23" rx="2.55" ry="2.3"/>
<ellipse cx="347.21" cy="141.3" rx="2.55" ry="2.3"/>
<ellipse cx="357.1" cy="146.97" rx="2.55" ry="2.3"/>
<ellipse cx="346.3" cy="151.5" rx="2.55" ry="2.3"/>
<ellipse cx="340.96" cy="148.1" rx="2.55" ry="2.3"/>
<ellipse cx="337.99" cy="150.37" rx="2.55" ry="2.3"/>
<ellipse cx="335.81" cy="150.37" rx="2.55" ry="2.3"/>
<ellipse cx="332.11" cy="149.23" rx="2.55" ry="2.3"/>
<ellipse cx="352.15" cy="144.7" rx="2.55" ry="2.3"/>
<ellipse cx="332.28" cy="151.5" rx="2.55" ry="2.3"/>
<ellipse cx="350" cy="148.1" rx="2.55" ry="2.3"/>
<ellipse cx="343.25" cy="149.23" rx="2.55" ry="2.3"/>
<ellipse cx="344.7" cy="150.37" rx="2.55" ry="2.3"/>
<ellipse cx="337.73" cy="149.23" rx="2.55" ry="2.3"/>
<ellipse cx="340.26" cy="148.1" rx="2.55" ry="2.3"/>
<ellipse cx="348.07" cy="149.23" rx="2.55" ry="2.3"/>
<ellipse cx="338.1" cy="149.23" rx="2.55" ry="2.3"/>
<ellipse cx="332.2" cy="149.23" rx="2.55" ry="2.3"/>
<ellipse cx="334.38" cy="150.37" rx="2.55" ry="2.3"/>
<ellipse cx="330.45" cy="151.5" rx="2.55" ry="2.3"/>
<ellipse cx="340.14" cy="149.23" rx="2.55" ry="2.3"/>
<ellipse cx="352.87" cy="151.5" rx="2.55" ry="2.3"/>
<ellipse cx="339.46" cy="144.7" rx="2.55" ry="2.3"/>
<ellipse cx="335.66" cy="151.5" rx="2.55" ry="2.3"/>
<ellipse cx="334.31" cy="151.5" rx="2.55" ry="2.3"/>
<ellipse cx="334.71" cy="146.97" rx="2.55" ry="2.3"/>
<ellipse cx="335.28" cy="148.1" rx="2.55" ry="2.3"/>
<ellipse cx="334.55" cy="150.37" rx="2.55" ry="2.3"/>
<ellipse cx="336.43" cy="145.83" rx="2.55" ry="2.3"/>
<ellipse cx="337.95" cy="150.37" rx="2.55" ry="2.3"/>
<ellipse cx="335.69" cy="150.37" rx="2.55" ry="2.3"/>
<ellipse cx="338.59" cy="150.37" rx="2.55" ry="2.3"/>
<ellipse cx="335.63" cy="148.1" rx="2.55" ry="2.3"/>
<ellipse cx="343.65" cy="150.37" rx="2.55" ry="2.3"/>
<ellipse cx="342.04" cy="145.83" rx="2.55" ry="2.3"/>
<ellipse cx="344.32" cy="145.83" rx="2.55" ry="2.3"/>
<ellipse cx="334.9" cy="149.23" rx="2.55" ry="2.3"/>
<ellipse cx="332.98" cy="150.37" rx="2.55" ry="2.3"/>
<ellipse cx="340.28" cy="148.1" rx="2.55" ry="2.3"/>
<ellipse cx="335.01" cy="149.23" rx="2.55" ry="2.3"/>
<ellipse cx="337.26" cy="143.57" rx="2.55" ry="2.3"/>
<ellipse cx="335.98" cy="150.37" rx="2.55" ry="2.3"/>
<ellipse cx="341.35" cy="149.23" rx="2.55" ry="2.3"/>
<ellipse cx="332.7" cy="149.23" rx="2.55" ry="2.3"/>
<ellipse cx="340.62" cy="140.17" rx="2.55" ry="2.3"/>
<ellipse cx="331.49" cy="150.37" rx="2.55" ry="2.3"/>
<ellipse cx="342.86" cy="149.23" rx="2.55" ry="2.3"/>
<ellipse cx="337.26" cy="141.3" rx="2.55" ry="2.3"/>
<ellipse cx="333.31" cy="150.37" rx="2.55" ry="2.3"/>
<ellipse cx="336.14" cy="144.7" rx="2.55" ry="2.3"/>
<ellipse cx="332.82" cy="149.23" rx="2.55" ry="2.3"/>
<ellipse cx="333.43" cy="149.23" rx="2.55" ry="2.3"/>
<ellipse cx="335.92" cy="150.37" rx="2.55" ry="2.3"/>
<ellipse cx="332.89" cy="150.37" rx="2.55" ry="2.3"/>
<ellipse cx="353.38" cy="146.97" rx="2.55" ry="2.3"/>
<ellipse cx="333.06" cy="150.37" rx="2.55" ry="2.3"/>
<ellipse cx="336.46" cy="149.23" rx="2.55" ry="2.3"/>
<ellipse cx="331.71" cy="151.5" rx="2.55" ry="2.3"/>
<ellipse cx="345.82" cy="149.23" rx="2.55" ry="2.3"/>
<ellipse cx="339.8" cy="144.7" rx="2.55" ry="2.3"/>
<ellipse cx="345.08" cy="151.5" rx="2.55" ry="2.3"/>
<ellipse cx="335.39" cy="150.37" rx="2.55" ry="2.3"/>
<ellipse cx="344.39" cy="151.5" rx="2.55" ry="2.3"/>
<ellipse cx="342.4" cy="145.83" rx="2.55" ry="2.3"/>
<ellipse cx="333.2" cy="149.23" rx="2.55" ry="2.3"/>
<ellipse cx="340.15" cy="150.37" rx="2.55" ry="2.3"/>
<ellipse cx="331.5" cy="148.1" rx="2.55" ry="2.3"/>
<ellipse cx="343.87" cy="149.23" rx="2.55" ry="2.3"/>
<ellipse cx="334.19" cy="151.5" rx="2.55" ry="2.3"/>
<ellipse cx="339.45" cy="146.97" rx="2.55" ry="2.3"/>
<ellipse cx="339.02" cy="151.5" rx="2.55" ry="2.3"/>
<ellipse cx="332.99" cy="144.7" rx="2.55" ry="2.3"/>
<ellipse cx="333" cy="149.23" rx="2.55" ry="2.3"/>
<ellipse cx="332.19" cy="149.23" rx="2.55" ry="2.3"/>
<ellipse cx="339.05" cy="148.1" rx="2.55" ry="2.3"/>
<ellipse cx="332.5" cy="150.37" rx="2.55" ry="2.3"/>
<ellipse cx="332.77" cy="143.57" rx="2.55" ry="2.3"/>
<ellipse cx="335.27" cy="149.23" rx="2.55" ry="2.3"/>
<ellipse cx="339.99" cy="149.23" rx="2.55" ry="2.3"/>
<ellipse cx="338.61" cy="149.23" rx="2.55" ry="2.3"/>
<ellipse cx="333.16" cy="150.37" rx="2.55" ry="2.3"/>
<ellipse cx="331.72" cy="150.37" rx="2.55" ry="2.3"/>
<ellipse cx="343.95" cy="145.83" rx="2.55" ry="2.3"/>
<ellipse cx="330.7" cy="150.37" rx="2.55" ry="2.3"/>
<ellipse cx="335.13" cy="150.37" rx="2.55" ry="2.3"/>
<ellipse cx="340.88" cy="151.5" rx="2.55" ry="2.3"/>
<ellipse cx="337.92" cy="144.7" rx="2.55" ry="2.3"/>
<ellipse cx="339.58" cy="150.37" rx="2.55" ry="2.3"/>
<ellipse cx="341.68" cy="149.23" rx="2.55" ry="2.3"/>
<ellipse cx="332.61" cy="149.23" rx="2.55" ry="2.3"/>
<ellipse cx="333.38" cy="149.23" rx="2.55" ry="2.3"/>
<ellipse cx="335.35" cy="151.5" rx="2.55" ry="2.3"/>
<ellipse cx="349.27" cy="142.43" rx="2.55" ry="2.3"/>
<ellipse cx="353.94" cy="150.37" rx="2.55" ry="2.3"/>
<ellipse cx="335.76" cy="148.1" rx="2.55" ry="2.3"/>
<ellipse cx="339.2" cy="149.23" rx="2.55" ry="2.3"/>
<ellipse cx="332.56" cy="150.37" rx="2.55" ry="2.3"/>
<ellipse cx="337.3" cy="149.23" rx="2.55" ry="2.3"/>
<ellipse cx="344.41" cy="146.97" rx="2.55" ry="2.3"/>
<ellipse cx="355.76" cy="150.37" rx="2.55" ry="2.3"/>
<ellipse cx="331.21" cy="150.37" rx="2.55" ry="2.3"/>
<ellipse cx="341.36" cy="145.83" rx="2.55" ry="2.3"/>
<ellipse cx="335" cy="151.5" rx="2.55" ry="2.3"/>
<ellipse cx="350.36" cy="140.17" rx="2.55" ry="2.3"/>
<ellipse cx="334.88" cy="149.23" rx="2.55" ry="2.3"/>
<ellipse cx="337.79" cy="145.83" rx="2.55" ry="2.3"/>
<ellipse cx="332.87" cy="151.5" rx="2.55" ry="2.3"/>
<ellipse cx="340.63" cy="146.97" rx="2.55" ry="2.3"/>
<ellipse cx="336.29" cy="150.37" rx="2.55" ry="2.3"/>
<ellipse cx="332.65" cy="150.37" rx="2.55" ry="2.3"/>
<ellipse cx="331.53" cy="151.5" rx="2.55" ry="2.3"/>
<ellipse cx="335.82" cy="149.23" rx="2.55" ry="2.3"/>
<ellipse cx="339.95" cy="151.5" rx="2.55" ry="2.3"/>
<ellipse cx="338.13" cy="145.83" rx="2.55" ry="2.3"/>
<ellipse cx="341.9" cy="150.37" rx="2.55" ry="2.3"/>
<ellipse cx="337.42" cy="149.23" rx="2.55" ry="2.3"/>
<ellipse cx="338.78" cy="144.7" rx="2.55" ry="2.3"/>
<ellipse cx="338.59" cy="149.23" rx="2.55" ry="2.3"/>
<ellipse cx="334.95" cy="150.37" rx="2.55" ry="2.3"/>
<ellipse cx="339.84" cy="149.23" rx="2.55" ry="2.3"/>
<ellipse cx="345.52" cy="140.17" rx="2.55" ry="2.3"/>
<ellipse cx="331.03" cy="151.5" rx="2.55" ry="2.3"/>
<ellipse cx="342.47" cy="150.37" rx="2.55" ry="2.3"/>
<ellipse cx="358.85" cy="150.37" rx="2.55" ry="2.3"/>
<ellipse cx="334.87" cy="151.5" rx="2.55" ry="2.3"/>
<ellipse cx="339.52" cy="151.5" rx="2.55" ry="2.3"/>
<ellipse cx="345.04" cy="149.23" rx="2.55" ry="2.3"/>
<ellipse cx="343.75" cy="150.37" rx="2.55" ry="2.3"/>
<ellipse cx="344.73" cy="151.5" rx="2.55" ry="2.3"/>
<ellipse cx="347.68" cy="145.83" rx="2.55" ry="2.3"/>
<ellipse cx="342.05" cy="146.97" rx="2.55" ry="2.3"/>
<ellipse cx="346.24" cy="146.97" rx="2.55" ry="2.3"/>
<ellipse cx="334.85" cy="151.5" rx="2.55" ry="2.3"/>
<ellipse cx="346.38" cy="151.5" rx="2.55" ry="2.3"/>
<ellipse cx="341.21" cy="142.43" rx="2.55" ry="2.3"/>
<ellipse cx="343.94" cy="144.7" rx="2.55" ry="2.3"/>
<ellipse cx="338.22" cy="150.37" rx="2.55" ry="2.3"/>
<ellipse cx="342.69" cy="150.37" rx="2.55" ry="2.3"/>
<ellipse cx="348.97" cy="151.5" rx="2.55" ry="2.3"/>
<ellipse cx="355.84" cy="150.37" rx="2.55" ry="2.3"/>
<ellipse cx="337.69" cy="145.83" rx="2.55" ry="2.3"/>
<ellipse cx="340.09" cy="150.37" rx="2.55" ry="2.3"/>
<ellipse cx="338.58" cy="151.5" rx="2.55" ry="2.3"/>
<ellipse cx="332.62" cy="149.23" rx="2.55" ry="2.3"/>
<ellipse cx="341.51" cy="151.5" rx="2.55" ry="2.3"/>
<ellipse cx="348.2" cy="148.1" rx="2.55" ry="2.3"/>
<ellipse cx="435.7" cy="134.7" rx="2.55" ry="2.3"/>
<ellipse cx="450.7" cy="125.5" rx="2.55" ry="2.3"/>
<ellipse cx="452.2" cy="123.2" rx="2.55" ry="2.3"/>
<ellipse cx="462.9" cy="135.7" rx="2.55" ry="2.3"/>
<ellipse cx="463.3" cy="135.7" rx="2.55" ry="2.3"/>
<ellipse cx="505.2" cy="127.8" rx="2.55" ry="2.3"/>
<ellipse cx="522.5" cy="119.9" rx="2.55" ry="2.3"/>
<ellipse cx="398" cy="67.9" rx="2.55" ry="2.3"/>
<ellipse cx="372.7" cy="83.6" rx="2.55" ry="2.3"/>
<ellipse cx="355.9" cy="96" rx="2.55" ry="2.3"/>
<ellipse cx="388.9" cy="96" rx="2.55" ry="2.3"/>
<ellipse cx="412.9" cy="93.5" rx="2.55" ry="2.3"/>
<ellipse cx="411.2" cy="99.6" rx="2.55" ry="2.3"/>
<ellipse cx="359.7" cy="107.6" rx="2.55" ry="2.3"/>
<ellipse cx="374" cy="109.8" rx="2.55" ry="2.3"/>
<ellipse cx="364.9" cy="113.1" rx="2.55" ry="2.3"/>
<ellipse cx="352" cy="114.2" rx="2.55" ry="2.3"/>
<ellipse cx="357.5" cy="116.1" rx="2.55" ry="2.3"/>
<ellipse cx="359.4" cy="117.5" rx="2.55" ry="2.3"/>
<ellipse cx="371.3" cy="116.4" rx="2.55" ry="2.3"/>
<ellipse cx="333.5" cy="116.1" rx="2.55" ry="2.3"/>
<ellipse cx="357.2" cy="121.1" rx="2.55" ry="2.3"/>
<ellipse cx="364.1" cy="123.3" rx="2.55" ry="2.3"/>
<ellipse cx="344.8" cy="124.7" rx="2.55" ry="2.3"/>
<ellipse cx="406.8" cy="120" rx="2.55" ry="2.3"/>
<ellipse cx="385" cy="128" rx="2.55" ry="2.3"/>
<ellipse cx="372.9" cy="128" rx="2.55" ry="2.3"/>
<ellipse cx="369" cy="131" rx="2.55" ry="2.3"/>
<ellipse cx="362.2" cy="134.6" rx="2.55" ry="2.3"/>
<ellipse cx="341" cy="133.5" rx="2.55" ry="2.3"/>
<ellipse cx="376" cy="136" rx="2.55" ry="2.3"/>
<ellipse cx="370" cy="138.2" rx="2.55" ry="2.3"/>
<ellipse cx="389" cy="136" rx="2.55" ry="2.3"/>
<ellipse cx="393.3" cy="138.7" rx="2.55" ry="2.3"/>
<ellipse cx="401.6" cy="132.1" rx="2.55" ry="2.3"/>
<ellipse cx="392.5" cy="145" rx="2.55" ry="2.3"/>
<ellipse cx="375.4" cy="143.1" rx="2.55" ry="2.3"/>
<ellipse cx="376" cy="147.2" rx="2.55" ry="2.3"/>
<ellipse cx="372.4" cy="147.2" rx="2.55" ry="2.3"/>
<ellipse cx="369" cy="146.4" rx="2.55" ry="2.3"/>
<ellipse cx="367.7" cy="143.7" rx="2.55" ry="2.3"/>
<ellipse cx="351.2" cy="136.8" rx="2.55" ry="2.3"/>
<ellipse cx="334.6" cy="138.2" rx="2.55" ry="2.3"/>
</g>
<path d="M350.05,149.43 L352.94,148.89 L355.83,148.29 L358.72,147.63 L361.6,146.93 L364.49,146.17 L367.38,145.36 L370.27,144.5 L373.16,143.59 L376.05,142.64 L378.93,141.64 L381.82,140.59 L384.71,139.49 L387.6,138.35 L390.49,137.16 L393.38,135.93 L396.26,134.66 L399.15,133.34 L402.04,131.98 L404.93,130.57 L407.82,129.12 L410.71,127.63 L413.6,126.1 L416.48,124.53 L419.37,122.91 L422.26,121.26 L425.15,119.56 L428.04,117.83 L430.93,116.05 L433.81,114.23 L436.7,112.37 L439.59,110.48 L442.48,108.54 L445.37,106.57 L448.26,104.56 L451.14,102.5 L454.03,100.41 L456.92,98.29 L459.81,96.12 L462.7,93.92 L465.59,91.67 L468.48,89.4 L471.36,87.08 L474.25,84.73 L477.14,82.34 L480.03,79.91 L482.92,77.45 L485.81,74.95 L488.69,72.41 L491.58,69.84 L494.47,67.23 L497.36,64.58 L500.25,61.9 L503.14,59.19 L506.02,56.44 L508.91,53.65 L511.8,50.83 L514.69,47.97 L517.58,45.08 L520.47,42.15 L523.36,39.19" fill="none" stroke="#111" stroke-width="1.1"/>
<path d="M329.5,151.5 L329.5,15.5 L535.0,15.5 L535.0,151.5 Z" fill="none" stroke="#111" stroke-width="1.1"/>
<path d="M329.5,152.0 L329.5,15.0" fill="none" stroke="#1a1a1a" stroke-width="1.0"/>
<text transform="translate(328.9,165) scale(1,0.92)" font-size="9.7" text-anchor="middle" fill="#111" stroke="#111" stroke-width="0.2" >0</text>
<text transform="translate(397.4,165) scale(1,0.92)" font-size="9.7" text-anchor="middle" fill="#111" stroke="#111" stroke-width="0.2" >1,000</text>
<text transform="translate(465.9,165) scale(1,0.92)" font-size="9.7" text-anchor="middle" fill="#111" stroke="#111" stroke-width="0.2" >2,000</text>
<text transform="translate(534.4,165) scale(1,0.92)" font-size="9.7" text-anchor="middle" fill="#111" stroke="#111" stroke-width="0.2" >3,000</text>
<text transform="translate(321.1,154.2) scale(1,0.92)" font-size="9.7" text-anchor="end" fill="#111" stroke="#111" stroke-width="0.2" >0</text>
<text transform="translate(321.1,131.53) scale(1,0.92)" font-size="9.7" text-anchor="end" fill="#111" stroke="#111" stroke-width="0.2" >20</text>
<text transform="translate(321.1,108.87) scale(1,0.92)" font-size="9.7" text-anchor="end" fill="#111" stroke="#111" stroke-width="0.2" >40</text>
<text transform="translate(321.1,86.2) scale(1,0.92)" font-size="9.7" text-anchor="end" fill="#111" stroke="#111" stroke-width="0.2" >60</text>
<text transform="translate(321.1,63.53) scale(1,0.92)" font-size="9.7" text-anchor="end" fill="#111" stroke="#111" stroke-width="0.2" >80</text>
<text transform="translate(321.1,40.87) scale(1,0.92)" font-size="9.7" text-anchor="end" fill="#111" stroke="#111" stroke-width="0.2" >100</text>
<text transform="translate(321.1,18.2) scale(1,0.92)" font-size="9.7" text-anchor="end" fill="#111" stroke="#111" stroke-width="0.2" >120</text>
<path d="M329.5,151.5 v3 M398,151.5 v3 M466.5,151.5 v3 M535,151.5 v3 M329.5,151.5 h-3 M329.5,128.83 h-3 M329.5,106.17 h-3 M329.5,83.5 h-3 M329.5,60.83 h-3 M329.5,38.17 h-3 M329.5,15.5 h-3" fill="none" stroke="#111" stroke-width="1"/>
<text transform="translate(432.25,179.1) scale(1,0.88)" font-size="11" text-anchor="middle" fill="#111" stroke="#111" stroke-width="0.2" word-spacing="0.4">GDP (billion yuan)</text>
<text transform="translate(288.6,141.2) rotate(-90)" font-size="10.5" textLength="116.2" lengthAdjust="spacingAndGlyphs" fill="#111" stroke="#111" stroke-width="0.2">Number of nonstate-owned</text>
<text transform="translate(301,104.1) rotate(-90)" font-size="10.5" textLength="40.4" lengthAdjust="spacingAndGlyphs" fill="#111" stroke="#111" stroke-width="0.2">museums</text>
<text transform="translate(347,31.1) scale(1,0.93)" font-size="14.6" text-anchor="start" fill="#111" stroke="#111" stroke-width="0.2" >b</text>
<text transform="translate(437,48.5) scale(1,0.86)" font-size="10" text-anchor="start" fill="#111" stroke="#111" stroke-width="0.2" >y = 0.00<tspan dx="1">x</tspan><tspan font-size="6.7" dx="0.7" dy="-2.5" fill="#444" stroke="none">1.73</tspan></text>
<text transform="translate(444.3,58.65) scale(1,0.86)" font-size="10" text-anchor="start" fill="#111" stroke="#111" stroke-width="0.2" >R² = 0.31</text>
<g fill="none" stroke="#000" stroke-width="1.05">
<ellipse cx="71.5" cy="338.95" rx="2.55" ry="2.3"/>
<ellipse cx="72.58" cy="334.7" rx="2.55" ry="2.3"/>
<ellipse cx="77.68" cy="330.45" rx="2.55" ry="2.3"/>
<ellipse cx="62.26" cy="333.85" rx="2.55" ry="2.3"/>
<ellipse cx="81.01" cy="333" rx="2.55" ry="2.3"/>
<ellipse cx="68.47" cy="338.1" rx="2.55" ry="2.3"/>
<ellipse cx="67.65" cy="336.4" rx="2.55" ry="2.3"/>
<ellipse cx="68.51" cy="336.4" rx="2.55" ry="2.3"/>
<ellipse cx="58.06" cy="335.55" rx="2.55" ry="2.3"/>
<ellipse cx="63.37" cy="336.4" rx="2.55" ry="2.3"/>
<ellipse cx="61.58" cy="336.4" rx="2.55" ry="2.3"/>
<ellipse cx="65.66" cy="324.5" rx="2.55" ry="2.3"/>
<ellipse cx="58.11" cy="339.8" rx="2.55" ry="2.3"/>
<ellipse cx="69.46" cy="338.1" rx="2.55" ry="2.3"/>
<ellipse cx="73.15" cy="333.85" rx="2.55" ry="2.3"/>
<ellipse cx="77.47" cy="329.6" rx="2.55" ry="2.3"/>
<ellipse cx="74.81" cy="333" rx="2.55" ry="2.3"/>
<ellipse cx="66.8" cy="327.9" rx="2.55" ry="2.3"/>
<ellipse cx="82.15" cy="332.15" rx="2.55" ry="2.3"/>
<ellipse cx="71.07" cy="338.1" rx="2.55" ry="2.3"/>
<ellipse cx="62.67" cy="338.95" rx="2.55" ry="2.3"/>
<ellipse cx="66.82" cy="324.5" rx="2.55" ry="2.3"/>
<ellipse cx="89.61" cy="332.15" rx="2.55" ry="2.3"/>
<ellipse cx="66.15" cy="331.3" rx="2.55" ry="2.3"/>
<ellipse cx="80.83" cy="336.4" rx="2.55" ry="2.3"/>
<ellipse cx="69" cy="331.3" rx="2.55" ry="2.3"/>
<ellipse cx="78.87" cy="327.9" rx="2.55" ry="2.3"/>
<ellipse cx="84.91" cy="330.45" rx="2.55" ry="2.3"/>
<ellipse cx="65.03" cy="338.95" rx="2.55" ry="2.3"/>
<ellipse cx="62.89" cy="331.3" rx="2.55" ry="2.3"/>
<ellipse cx="100.89" cy="334.7" rx="2.55" ry="2.3"/>
<ellipse cx="78.25" cy="329.6" rx="2.55" ry="2.3"/>
<ellipse cx="61.15" cy="339.8" rx="2.55" ry="2.3"/>
<ellipse cx="96.08" cy="333" rx="2.55" ry="2.3"/>
<ellipse cx="77.53" cy="335.55" rx="2.55" ry="2.3"/>
<ellipse cx="66.92" cy="325.35" rx="2.55" ry="2.3"/>
<ellipse cx="61.55" cy="335.55" rx="2.55" ry="2.3"/>
<ellipse cx="66.38" cy="339.8" rx="2.55" ry="2.3"/>
<ellipse cx="66.36" cy="332.15" rx="2.55" ry="2.3"/>
<ellipse cx="66.1" cy="338.95" rx="2.55" ry="2.3"/>
<ellipse cx="78.13" cy="336.4" rx="2.55" ry="2.3"/>
<ellipse cx="83.02" cy="325.35" rx="2.55" ry="2.3"/>
<ellipse cx="74.7" cy="334.7" rx="2.55" ry="2.3"/>
<ellipse cx="68.97" cy="322.8" rx="2.55" ry="2.3"/>
<ellipse cx="73.86" cy="339.8" rx="2.55" ry="2.3"/>
<ellipse cx="60.23" cy="338.95" rx="2.55" ry="2.3"/>
<ellipse cx="59.54" cy="338.1" rx="2.55" ry="2.3"/>
<ellipse cx="63.7" cy="337.25" rx="2.55" ry="2.3"/>
<ellipse cx="62.97" cy="339.8" rx="2.55" ry="2.3"/>
<ellipse cx="63.8" cy="337.25" rx="2.55" ry="2.3"/>
<ellipse cx="64.33" cy="338.1" rx="2.55" ry="2.3"/>
<ellipse cx="67.65" cy="331.3" rx="2.55" ry="2.3"/>
<ellipse cx="66.57" cy="336.4" rx="2.55" ry="2.3"/>
<ellipse cx="57.29" cy="339.8" rx="2.55" ry="2.3"/>
<ellipse cx="62.54" cy="336.4" rx="2.55" ry="2.3"/>
<ellipse cx="60.28" cy="335.55" rx="2.55" ry="2.3"/>
<ellipse cx="72.71" cy="332.15" rx="2.55" ry="2.3"/>
<ellipse cx="76.49" cy="329.6" rx="2.55" ry="2.3"/>
<ellipse cx="63.18" cy="333.85" rx="2.55" ry="2.3"/>
<ellipse cx="69.23" cy="333" rx="2.55" ry="2.3"/>
<ellipse cx="57.95" cy="338.95" rx="2.55" ry="2.3"/>
<ellipse cx="61.31" cy="338.1" rx="2.55" ry="2.3"/>
<ellipse cx="65.35" cy="337.25" rx="2.55" ry="2.3"/>
<ellipse cx="66.36" cy="338.1" rx="2.55" ry="2.3"/>
<ellipse cx="59.81" cy="338.1" rx="2.55" ry="2.3"/>
<ellipse cx="62.18" cy="335.55" rx="2.55" ry="2.3"/>
<ellipse cx="69.41" cy="331.3" rx="2.55" ry="2.3"/>
<ellipse cx="61.42" cy="336.4" rx="2.55" ry="2.3"/>
<ellipse cx="67.68" cy="335.55" rx="2.55" ry="2.3"/>
<ellipse cx="60.34" cy="328.75" rx="2.55" ry="2.3"/>
<ellipse cx="70.05" cy="326.2" rx="2.55" ry="2.3"/>
<ellipse cx="62.35" cy="335.55" rx="2.55" ry="2.3"/>
<ellipse cx="81.21" cy="333" rx="2.55" ry="2.3"/>
<ellipse cx="69.94" cy="336.4" rx="2.55" ry="2.3"/>
<ellipse cx="81.03" cy="327.05" rx="2.55" ry="2.3"/>
<ellipse cx="73.66" cy="338.1" rx="2.55" ry="2.3"/>
<ellipse cx="77.06" cy="330.45" rx="2.55" ry="2.3"/>
<ellipse cx="74.76" cy="321.1" rx="2.55" ry="2.3"/>
<ellipse cx="65.18" cy="333" rx="2.55" ry="2.3"/>
<ellipse cx="79.6" cy="336.4" rx="2.55" ry="2.3"/>
<ellipse cx="89.22" cy="337.25" rx="2.55" ry="2.3"/>
<ellipse cx="59.87" cy="334.7" rx="2.55" ry="2.3"/>
<ellipse cx="60.86" cy="336.4" rx="2.55" ry="2.3"/>
<ellipse cx="58.55" cy="337.25" rx="2.55" ry="2.3"/>
<ellipse cx="60.64" cy="335.55" rx="2.55" ry="2.3"/>
<ellipse cx="58.95" cy="335.55" rx="2.55" ry="2.3"/>
<ellipse cx="66.43" cy="334.7" rx="2.55" ry="2.3"/>
<ellipse cx="68.33" cy="333.85" rx="2.55" ry="2.3"/>
<ellipse cx="59.78" cy="340.65" rx="2.55" ry="2.3"/>
<ellipse cx="69.41" cy="337.25" rx="2.55" ry="2.3"/>
<ellipse cx="64.86" cy="333.85" rx="2.55" ry="2.3"/>
<ellipse cx="57.52" cy="338.95" rx="2.55" ry="2.3"/>
<ellipse cx="63.71" cy="338.1" rx="2.55" ry="2.3"/>
<ellipse cx="72.98" cy="334.7" rx="2.55" ry="2.3"/>
<ellipse cx="62.33" cy="338.1" rx="2.55" ry="2.3"/>
<ellipse cx="80.69" cy="335.55" rx="2.55" ry="2.3"/>
<ellipse cx="76.8" cy="331.3" rx="2.55" ry="2.3"/>
<ellipse cx="57.77" cy="339.8" rx="2.55" ry="2.3"/>
<ellipse cx="69.07" cy="333" rx="2.55" ry="2.3"/>
<ellipse cx="80.17" cy="327.9" rx="2.55" ry="2.3"/>
<ellipse cx="85.33" cy="333.85" rx="2.55" ry="2.3"/>
<ellipse cx="66.94" cy="331.3" rx="2.55" ry="2.3"/>
<ellipse cx="65.09" cy="330.45" rx="2.55" ry="2.3"/>
<ellipse cx="58.74" cy="334.7" rx="2.55" ry="2.3"/>
<ellipse cx="67.29" cy="339.8" rx="2.55" ry="2.3"/>
<ellipse cx="84.15" cy="330.45" rx="2.55" ry="2.3"/>
<ellipse cx="69.26" cy="338.1" rx="2.55" ry="2.3"/>
<ellipse cx="64.77" cy="327.05" rx="2.55" ry="2.3"/>
<ellipse cx="62.3" cy="340.65" rx="2.55" ry="2.3"/>
<ellipse cx="62.12" cy="338.95" rx="2.55" ry="2.3"/>
<ellipse cx="67.68" cy="336.4" rx="2.55" ry="2.3"/>
<ellipse cx="61.8" cy="338.1" rx="2.55" ry="2.3"/>
<ellipse cx="85.64" cy="337.25" rx="2.55" ry="2.3"/>
<ellipse cx="64.18" cy="338.1" rx="2.55" ry="2.3"/>
<ellipse cx="80.31" cy="329.6" rx="2.55" ry="2.3"/>
<ellipse cx="61.09" cy="333.85" rx="2.55" ry="2.3"/>
<ellipse cx="57.93" cy="338.95" rx="2.55" ry="2.3"/>
<ellipse cx="87.44" cy="333.85" rx="2.55" ry="2.3"/>
<ellipse cx="59.86" cy="334.7" rx="2.55" ry="2.3"/>
<ellipse cx="82.84" cy="333" rx="2.55" ry="2.3"/>
<ellipse cx="58.03" cy="338.1" rx="2.55" ry="2.3"/>
<ellipse cx="74.25" cy="329.6" rx="2.55" ry="2.3"/>
<ellipse cx="66.55" cy="324.5" rx="2.55" ry="2.3"/>
<ellipse cx="93.36" cy="319.4" rx="2.55" ry="2.3"/>
<ellipse cx="55.94" cy="336.4" rx="2.55" ry="2.3"/>
<ellipse cx="63.26" cy="333.85" rx="2.55" ry="2.3"/>
<ellipse cx="78.53" cy="337.25" rx="2.55" ry="2.3"/>
<ellipse cx="68.14" cy="333.85" rx="2.55" ry="2.3"/>
<ellipse cx="76.84" cy="337.25" rx="2.55" ry="2.3"/>
<ellipse cx="61.36" cy="339.8" rx="2.55" ry="2.3"/>
<ellipse cx="67.11" cy="335.55" rx="2.55" ry="2.3"/>
<ellipse cx="59.09" cy="333.85" rx="2.55" ry="2.3"/>
<ellipse cx="64.25" cy="327.9" rx="2.55" ry="2.3"/>
<ellipse cx="81.54" cy="333" rx="2.55" ry="2.3"/>
<ellipse cx="79.21" cy="337.25" rx="2.55" ry="2.3"/>
<ellipse cx="65.91" cy="337.25" rx="2.55" ry="2.3"/>
<ellipse cx="60.01" cy="336.4" rx="2.55" ry="2.3"/>
<ellipse cx="67.56" cy="326.2" rx="2.55" ry="2.3"/>
<ellipse cx="55.17" cy="339.8" rx="2.55" ry="2.3"/>
<ellipse cx="61.76" cy="337.25" rx="2.55" ry="2.3"/>
<ellipse cx="74.31" cy="332.15" rx="2.55" ry="2.3"/>
<ellipse cx="69.34" cy="336.4" rx="2.55" ry="2.3"/>
<ellipse cx="75.38" cy="332.15" rx="2.55" ry="2.3"/>
<ellipse cx="57.92" cy="338.1" rx="2.55" ry="2.3"/>
<ellipse cx="59.56" cy="338.95" rx="2.55" ry="2.3"/>
<ellipse cx="70.7" cy="333.85" rx="2.55" ry="2.3"/>
<ellipse cx="70.31" cy="337.25" rx="2.55" ry="2.3"/>
<ellipse cx="67.02" cy="338.1" rx="2.55" ry="2.3"/>
<ellipse cx="73.74" cy="330.45" rx="2.55" ry="2.3"/>
<ellipse cx="90.91" cy="334.7" rx="2.55" ry="2.3"/>
<ellipse cx="82.27" cy="333.85" rx="2.55" ry="2.3"/>
<ellipse cx="71.6" cy="327.9" rx="2.55" ry="2.3"/>
<ellipse cx="62.22" cy="331.3" rx="2.55" ry="2.3"/>
<ellipse cx="66.39" cy="337.25" rx="2.55" ry="2.3"/>
<ellipse cx="64.36" cy="319.4" rx="2.55" ry="2.3"/>
<ellipse cx="77.55" cy="330.45" rx="2.55" ry="2.3"/>
<ellipse cx="63.18" cy="327.9" rx="2.55" ry="2.3"/>
<ellipse cx="60.84" cy="337.25" rx="2.55" ry="2.3"/>
<ellipse cx="91.32" cy="321.95" rx="2.55" ry="2.3"/>
<ellipse cx="66.21" cy="332.15" rx="2.55" ry="2.3"/>
<ellipse cx="66.74" cy="338.1" rx="2.55" ry="2.3"/>
<ellipse cx="84.94" cy="331.3" rx="2.55" ry="2.3"/>
<ellipse cx="81.43" cy="327.05" rx="2.55" ry="2.3"/>
<ellipse cx="62.39" cy="335.55" rx="2.55" ry="2.3"/>
<ellipse cx="62.96" cy="333.85" rx="2.55" ry="2.3"/>
<ellipse cx="81.22" cy="325.35" rx="2.55" ry="2.3"/>
<ellipse cx="65.92" cy="328.75" rx="2.55" ry="2.3"/>
<ellipse cx="83.05" cy="327.05" rx="2.55" ry="2.3"/>
<ellipse cx="62.68" cy="333" rx="2.55" ry="2.3"/>
<ellipse cx="75.02" cy="333" rx="2.55" ry="2.3"/>
<ellipse cx="74.38" cy="337.25" rx="2.55" ry="2.3"/>
<ellipse cx="69.26" cy="331.3" rx="2.55" ry="2.3"/>
<ellipse cx="67.47" cy="331.3" rx="2.55" ry="2.3"/>
<ellipse cx="72.91" cy="328.75" rx="2.55" ry="2.3"/>
<ellipse cx="91.77" cy="327.05" rx="2.55" ry="2.3"/>
<ellipse cx="74.51" cy="332.15" rx="2.55" ry="2.3"/>
<ellipse cx="64.89" cy="339.8" rx="2.55" ry="2.3"/>
<ellipse cx="78.1" cy="332.15" rx="2.55" ry="2.3"/>
<ellipse cx="64.11" cy="338.1" rx="2.55" ry="2.3"/>
<ellipse cx="91.22" cy="338.1" rx="2.55" ry="2.3"/>
<ellipse cx="87.52" cy="333.85" rx="2.55" ry="2.3"/>
<ellipse cx="70.81" cy="327.9" rx="2.55" ry="2.3"/>
<ellipse cx="86.02" cy="323.65" rx="2.55" ry="2.3"/>
<ellipse cx="67.56" cy="317.7" rx="2.55" ry="2.3"/>
<ellipse cx="62.36" cy="337.25" rx="2.55" ry="2.3"/>
<ellipse cx="69.39" cy="326.2" rx="2.55" ry="2.3"/>
<ellipse cx="81.7" cy="327.05" rx="2.55" ry="2.3"/>
<ellipse cx="62.67" cy="336.4" rx="2.55" ry="2.3"/>
<ellipse cx="70.55" cy="337.25" rx="2.55" ry="2.3"/>
<ellipse cx="63.02" cy="338.95" rx="2.55" ry="2.3"/>
<ellipse cx="65.53" cy="330.45" rx="2.55" ry="2.3"/>
<ellipse cx="76.01" cy="332.15" rx="2.55" ry="2.3"/>
<ellipse cx="75.8" cy="336.4" rx="2.55" ry="2.3"/>
<ellipse cx="66.57" cy="336.4" rx="2.55" ry="2.3"/>
<ellipse cx="62.01" cy="337.25" rx="2.55" ry="2.3"/>
<ellipse cx="62.22" cy="336.4" rx="2.55" ry="2.3"/>
<ellipse cx="80.37" cy="331.3" rx="2.55" ry="2.3"/>
<ellipse cx="69.88" cy="332.15" rx="2.55" ry="2.3"/>
<ellipse cx="67.32" cy="337.25" rx="2.55" ry="2.3"/>
<ellipse cx="58.06" cy="333" rx="2.55" ry="2.3"/>
<ellipse cx="72.94" cy="338.95" rx="2.55" ry="2.3"/>
<ellipse cx="73.2" cy="335.55" rx="2.55" ry="2.3"/>
<ellipse cx="68.61" cy="333.85" rx="2.55" ry="2.3"/>
<ellipse cx="63.56" cy="338.95" rx="2.55" ry="2.3"/>
<ellipse cx="63.68" cy="332.15" rx="2.55" ry="2.3"/>
<ellipse cx="62.23" cy="338.95" rx="2.55" ry="2.3"/>
<ellipse cx="69.25" cy="319.4" rx="2.55" ry="2.3"/>
<ellipse cx="62.2" cy="331.3" rx="2.55" ry="2.3"/>
<ellipse cx="71.42" cy="332.15" rx="2.55" ry="2.3"/>
<ellipse cx="94.24" cy="335.55" rx="2.55" ry="2.3"/>
<ellipse cx="72.31" cy="333.85" rx="2.55" ry="2.3"/>
<ellipse cx="73.28" cy="331.3" rx="2.55" ry="2.3"/>
<ellipse cx="65.96" cy="330.45" rx="2.55" ry="2.3"/>
<ellipse cx="81.25" cy="332.15" rx="2.55" ry="2.3"/>
<ellipse cx="65.24" cy="337.25" rx="2.55" ry="2.3"/>
<ellipse cx="78.61" cy="337.25" rx="2.55" ry="2.3"/>
<ellipse cx="67.42" cy="337.25" rx="2.55" ry="2.3"/>
<ellipse cx="59.48" cy="334.7" rx="2.55" ry="2.3"/>
<ellipse cx="68.76" cy="334.7" rx="2.55" ry="2.3"/>
<ellipse cx="81.99" cy="338.1" rx="2.55" ry="2.3"/>
<ellipse cx="68.33" cy="333.85" rx="2.55" ry="2.3"/>
<ellipse cx="81.17" cy="337.25" rx="2.55" ry="2.3"/>
<ellipse cx="79.02" cy="332.15" rx="2.55" ry="2.3"/>
<ellipse cx="87.74" cy="319.4" rx="2.55" ry="2.3"/>
<ellipse cx="62.15" cy="329.6" rx="2.55" ry="2.3"/>
<ellipse cx="80.43" cy="337.25" rx="2.55" ry="2.3"/>
<ellipse cx="85.2" cy="330.45" rx="2.55" ry="2.3"/>
<ellipse cx="63" cy="322.8" rx="2.55" ry="2.3"/>
<ellipse cx="91.68" cy="338.95" rx="2.55" ry="2.3"/>
<ellipse cx="85.93" cy="334.7" rx="2.55" ry="2.3"/>
<ellipse cx="58.96" cy="334.7" rx="2.55" ry="2.3"/>
<ellipse cx="60.17" cy="337.25" rx="2.55" ry="2.3"/>
<ellipse cx="70.12" cy="335.55" rx="2.55" ry="2.3"/>
<ellipse cx="61.3" cy="339.8" rx="2.55" ry="2.3"/>
<ellipse cx="67.31" cy="328.75" rx="2.55" ry="2.3"/>
<ellipse cx="89.67" cy="317.7" rx="2.55" ry="2.3"/>
<ellipse cx="74.31" cy="332.15" rx="2.55" ry="2.3"/>
<ellipse cx="62.9" cy="340.65" rx="2.55" ry="2.3"/>
<ellipse cx="62.72" cy="338.1" rx="2.55" ry="2.3"/>
<ellipse cx="61.57" cy="336.4" rx="2.55" ry="2.3"/>
<ellipse cx="73.29" cy="336.4" rx="2.55" ry="2.3"/>
<ellipse cx="80.6" cy="331.3" rx="2.55" ry="2.3"/>
<ellipse cx="80.98" cy="325.35" rx="2.55" ry="2.3"/>
<ellipse cx="88.87" cy="333.85" rx="2.55" ry="2.3"/>
<ellipse cx="63.45" cy="335.55" rx="2.55" ry="2.3"/>
<ellipse cx="89.28" cy="338.95" rx="2.55" ry="2.3"/>
<ellipse cx="80.43" cy="335.55" rx="2.55" ry="2.3"/>
<ellipse cx="78.35" cy="331.3" rx="2.55" ry="2.3"/>
<ellipse cx="65.57" cy="338.1" rx="2.55" ry="2.3"/>
<ellipse cx="65.71" cy="333" rx="2.55" ry="2.3"/>
<ellipse cx="60.53" cy="336.4" rx="2.55" ry="2.3"/>
<ellipse cx="63.72" cy="337.25" rx="2.55" ry="2.3"/>
<ellipse cx="60.46" cy="339.8" rx="2.55" ry="2.3"/>
<ellipse cx="74.16" cy="333" rx="2.55" ry="2.3"/>
<ellipse cx="65.05" cy="336.4" rx="2.55" ry="2.3"/>
<ellipse cx="82.84" cy="332.15" rx="2.55" ry="2.3"/>
<ellipse cx="73.15" cy="334.7" rx="2.55" ry="2.3"/>
<ellipse cx="77.88" cy="334.7" rx="2.55" ry="2.3"/>
<ellipse cx="61.11" cy="333.85" rx="2.55" ry="2.3"/>
<ellipse cx="76.68" cy="337.25" rx="2.55" ry="2.3"/>
<ellipse cx="71.17" cy="333.85" rx="2.55" ry="2.3"/>
<ellipse cx="71.48" cy="333.85" rx="2.55" ry="2.3"/>
<ellipse cx="65.14" cy="337.25" rx="2.55" ry="2.3"/>
<ellipse cx="55.95" cy="338.95" rx="2.55" ry="2.3"/>
<ellipse cx="67.16" cy="338.1" rx="2.55" ry="2.3"/>
<ellipse cx="69.86" cy="332.15" rx="2.55" ry="2.3"/>
<ellipse cx="70.35" cy="337.25" rx="2.55" ry="2.3"/>
<ellipse cx="60.76" cy="330.45" rx="2.55" ry="2.3"/>
<ellipse cx="63.95" cy="335.55" rx="2.55" ry="2.3"/>
<ellipse cx="79.65" cy="332.15" rx="2.55" ry="2.3"/>
<ellipse cx="71.11" cy="333" rx="2.55" ry="2.3"/>
<ellipse cx="57.78" cy="338.1" rx="2.55" ry="2.3"/>
<ellipse cx="77.27" cy="338.1" rx="2.55" ry="2.3"/>
<ellipse cx="59.16" cy="335.55" rx="2.55" ry="2.3"/>
<ellipse cx="66.4" cy="333.85" rx="2.55" ry="2.3"/>
<ellipse cx="57.93" cy="337.25" rx="2.55" ry="2.3"/>
<ellipse cx="61.94" cy="333" rx="2.55" ry="2.3"/>
<ellipse cx="62.11" cy="332.15" rx="2.55" ry="2.3"/>
<ellipse cx="59.94" cy="330.45" rx="2.55" ry="2.3"/>
<ellipse cx="69.25" cy="333" rx="2.55" ry="2.3"/>
<ellipse cx="59.94" cy="338.1" rx="2.55" ry="2.3"/>
<ellipse cx="78.1" cy="338.1" rx="2.55" ry="2.3"/>
<ellipse cx="59.66" cy="338.95" rx="2.55" ry="2.3"/>
<ellipse cx="69.49" cy="332.15" rx="2.55" ry="2.3"/>
<ellipse cx="78.83" cy="334.7" rx="2.55" ry="2.3"/>
<ellipse cx="67.04" cy="335.55" rx="2.55" ry="2.3"/>
<ellipse cx="64.11" cy="339.8" rx="2.55" ry="2.3"/>
<ellipse cx="83" cy="331.3" rx="2.55" ry="2.3"/>
<ellipse cx="70.77" cy="336.4" rx="2.55" ry="2.3"/>
<ellipse cx="71.86" cy="333.85" rx="2.55" ry="2.3"/>
<ellipse cx="68.26" cy="328.75" rx="2.55" ry="2.3"/>
<ellipse cx="58.52" cy="336.4" rx="2.55" ry="2.3"/>
<ellipse cx="61.19" cy="337.25" rx="2.55" ry="2.3"/>
<ellipse cx="62.46" cy="334.7" rx="2.55" ry="2.3"/>
<ellipse cx="59.57" cy="334.7" rx="2.55" ry="2.3"/>
<ellipse cx="84.5" cy="338.95" rx="2.55" ry="2.3"/>
<ellipse cx="74.41" cy="329.6" rx="2.55" ry="2.3"/>
<ellipse cx="60.29" cy="335.55" rx="2.55" ry="2.3"/>
<ellipse cx="65.45" cy="333" rx="2.55" ry="2.3"/>
<ellipse cx="79.83" cy="330.45" rx="2.55" ry="2.3"/>
<ellipse cx="56.21" cy="336.4" rx="2.55" ry="2.3"/>
<ellipse cx="103.49" cy="335.55" rx="2.55" ry="2.3"/>
<ellipse cx="93.19" cy="333" rx="2.55" ry="2.3"/>
<ellipse cx="94.47" cy="327.05" rx="2.55" ry="2.3"/>
<ellipse cx="65.46" cy="328.75" rx="2.55" ry="2.3"/>
<ellipse cx="86.71" cy="333.85" rx="2.55" ry="2.3"/>
<ellipse cx="64.46" cy="337.25" rx="2.55" ry="2.3"/>
<ellipse cx="60.55" cy="327.9" rx="2.55" ry="2.3"/>
<ellipse cx="77.66" cy="333" rx="2.55" ry="2.3"/>
<ellipse cx="64.72" cy="338.1" rx="2.55" ry="2.3"/>
<ellipse cx="90.86" cy="326.2" rx="2.55" ry="2.3"/>
<ellipse cx="61.79" cy="332.15" rx="2.55" ry="2.3"/>
<ellipse cx="60.99" cy="333.85" rx="2.55" ry="2.3"/>
<ellipse cx="61.74" cy="337.25" rx="2.55" ry="2.3"/>
<ellipse cx="75.09" cy="331.3" rx="2.55" ry="2.3"/>
<ellipse cx="83.97" cy="336.4" rx="2.55" ry="2.3"/>
<ellipse cx="91.56" cy="323.65" rx="2.55" ry="2.3"/>
<ellipse cx="78.58" cy="333" rx="2.55" ry="2.3"/>
<ellipse cx="88.23" cy="335.55" rx="2.55" ry="2.3"/>
<ellipse cx="66.68" cy="336.4" rx="2.55" ry="2.3"/>
<ellipse cx="66.88" cy="338.95" rx="2.55" ry="2.3"/>
<ellipse cx="67.9" cy="330.45" rx="2.55" ry="2.3"/>
<ellipse cx="75.38" cy="327.9" rx="2.55" ry="2.3"/>
<ellipse cx="75.15" cy="328.75" rx="2.55" ry="2.3"/>
<ellipse cx="61.55" cy="337.25" rx="2.55" ry="2.3"/>
<ellipse cx="68.18" cy="336.4" rx="2.55" ry="2.3"/>
<ellipse cx="75.19" cy="337.25" rx="2.55" ry="2.3"/>
<ellipse cx="58.73" cy="338.95" rx="2.55" ry="2.3"/>
<ellipse cx="87.52" cy="321.1" rx="2.55" ry="2.3"/>
<ellipse cx="78.52" cy="332.15" rx="2.55" ry="2.3"/>
<ellipse cx="100.8" cy="323.6" rx="2.55" ry="2.3"/>
<ellipse cx="104.4" cy="324.8" rx="2.55" ry="2.3"/>
<ellipse cx="106.7" cy="328.4" rx="2.55" ry="2.3"/>
<ellipse cx="99.6" cy="335.5" rx="2.55" ry="2.3"/>
<ellipse cx="94.9" cy="336.6" rx="2.55" ry="2.3"/>
<ellipse cx="90.2" cy="340.8" rx="2.55" ry="2.3"/>
<ellipse cx="97" cy="330" rx="2.55" ry="2.3"/>
<ellipse cx="96" cy="326" rx="2.55" ry="2.3"/>
<ellipse cx="104.7" cy="287.3" rx="2.55" ry="2.3"/>
<ellipse cx="103.5" cy="302.5" rx="2.55" ry="2.3"/>
<ellipse cx="108.5" cy="303.5" rx="2.55" ry="2.3"/>
<ellipse cx="122.4" cy="304.4" rx="2.55" ry="2.3"/>
<ellipse cx="133.7" cy="308.4" rx="2.55" ry="2.3"/>
<ellipse cx="137.6" cy="307.4" rx="2.55" ry="2.3"/>
<ellipse cx="86.8" cy="306" rx="2.55" ry="2.3"/>
<ellipse cx="86.4" cy="310.7" rx="2.55" ry="2.3"/>
<ellipse cx="95.9" cy="311.7" rx="2.55" ry="2.3"/>
<ellipse cx="107.7" cy="310" rx="2.55" ry="2.3"/>
<ellipse cx="108.1" cy="310.7" rx="2.55" ry="2.3"/>
<ellipse cx="100.6" cy="316.7" rx="2.55" ry="2.3"/>
<ellipse cx="107.7" cy="318.2" rx="2.55" ry="2.3"/>
<ellipse cx="64.8" cy="316.7" rx="2.55" ry="2.3"/>
<ellipse cx="70.7" cy="316.3" rx="2.55" ry="2.3"/>
<ellipse cx="94.3" cy="318.2" rx="2.55" ry="2.3"/>
<ellipse cx="87.4" cy="319.2" rx="2.55" ry="2.3"/>
<ellipse cx="92.3" cy="322.2" rx="2.55" ry="2.3"/>
<ellipse cx="108.5" cy="322.8" rx="2.55" ry="2.3"/>
<ellipse cx="109" cy="327" rx="2.55" ry="2.3"/>
<ellipse cx="102.2" cy="333" rx="2.55" ry="2.3"/>
<ellipse cx="60.8" cy="322.2" rx="2.55" ry="2.3"/>
<ellipse cx="75.6" cy="319.2" rx="2.55" ry="2.3"/>
<ellipse cx="164.6" cy="225.1" rx="2.55" ry="2.3"/>
<ellipse cx="177.1" cy="250.6" rx="2.55" ry="2.3"/>
<ellipse cx="207.9" cy="283.7" rx="2.55" ry="2.3"/>
</g>
<path d="M94.6,329.32 L96.5,328.98 L98.4,328.64 L100.3,328.31 L102.2,327.99 L104.1,327.67 L106,327.35 L107.9,327.04 L109.8,326.73 L111.7,326.43 L113.6,326.13 L115.5,325.83 L117.4,325.54 L119.3,325.25 L121.2,324.97 L123.1,324.69 L125,324.41 L126.9,324.13 L128.8,323.86 L130.7,323.58 L132.6,323.32 L134.5,323.05 L136.4,322.79 L138.3,322.53 L140.2,322.27 L142.1,322.01 L144,321.76 L145.9,321.5 L147.8,321.25 L149.7,321 L151.6,320.76 L153.5,320.51 L155.4,320.27 L157.3,320.03 L159.2,319.79 L161.11,319.55 L163.01,319.32 L164.91,319.08 L166.81,318.85 L168.71,318.62 L170.61,318.39 L172.51,318.16 L174.41,317.93 L176.31,317.71 L178.21,317.48 L180.11,317.26 L182.01,317.04 L183.91,316.82 L185.81,316.6 L187.71,316.38 L189.61,316.16 L191.51,315.95 L193.41,315.73 L195.31,315.52 L197.21,315.31 L199.11,315.1 L201.01,314.89 L202.91,314.68 L204.81,314.47 L206.71,314.26 L208.61,314.06" fill="none" stroke="#111" stroke-width="1.1"/>
<path d="M53.7,341.5 L53.7,205.5 L258.2,205.5 L258.2,341.5 Z" fill="none" stroke="#111" stroke-width="1.1"/>
<path d="M53.7,342.0 L53.7,205.0" fill="none" stroke="#1a1a1a" stroke-width="1.15"/>
<text transform="translate(53.1,355) scale(1,0.92)" font-size="9.7" text-anchor="middle" fill="#111" stroke="#111" stroke-width="0.2" >0</text>
<text transform="translate(104.23,355) scale(1,0.92)" font-size="9.7" text-anchor="middle" fill="#111" stroke="#111" stroke-width="0.2" >10</text>
<text transform="translate(155.35,355) scale(1,0.92)" font-size="9.7" text-anchor="middle" fill="#111" stroke="#111" stroke-width="0.2" >20</text>
<text transform="translate(206.47,355) scale(1,0.92)" font-size="9.7" text-anchor="middle" fill="#111" stroke="#111" stroke-width="0.2" >30</text>
<text transform="translate(257.6,355) scale(1,0.92)" font-size="9.7" text-anchor="middle" fill="#111" stroke="#111" stroke-width="0.2" >40</text>
<text transform="translate(45.3,344.2) scale(1,0.92)" font-size="9.7" text-anchor="end" fill="#111" stroke="#111" stroke-width="0.2" >0</text>
<text transform="translate(45.3,310.2) scale(1,0.92)" font-size="9.7" text-anchor="end" fill="#111" stroke="#111" stroke-width="0.2" >40</text>
<text transform="translate(45.3,276.2) scale(1,0.92)" font-size="9.7" text-anchor="end" fill="#111" stroke="#111" stroke-width="0.2" >80</text>
<text transform="translate(45.3,242.2) scale(1,0.92)" font-size="9.7" text-anchor="end" fill="#111" stroke="#111" stroke-width="0.2" >120</text>
<text transform="translate(45.3,208.2) scale(1,0.92)" font-size="9.7" text-anchor="end" fill="#111" stroke="#111" stroke-width="0.2" >160</text>
<path d="M53.7,341.5 v3 M104.83,341.5 v3 M155.95,341.5 v3 M207.07,341.5 v3 M258.2,341.5 v3 M53.7,341.5 h-3 M53.7,307.5 h-3 M53.7,273.5 h-3 M53.7,239.5 h-3 M53.7,205.5 h-3" fill="none" stroke="#111" stroke-width="1"/>
<text transform="translate(156.35,369.1) scale(1,0.88)" font-size="10.75" text-anchor="middle" fill="#111" stroke="#111" stroke-width="0.2" >Population (million)</text>
<text transform="translate(22.1,356.2) rotate(-90)" font-size="10.5" textLength="142.7" lengthAdjust="spacingAndGlyphs" fill="#111" stroke="#111" stroke-width="0.2">Number of state-owned museums</text>
<text transform="translate(63,221.4) scale(1,0.9)" font-size="14.5" text-anchor="start" fill="#111" stroke="#111" stroke-width="0.2" >c</text>
<text transform="translate(189.7,235) scale(1,0.86)" font-size="10" text-anchor="start" fill="#111" stroke="#111" stroke-width="0.2" >y = 4.03<tspan dx="1">x</tspan><tspan font-size="6.7" dx="0.7" dy="-2.85" fill="#444" stroke="none">0.61</tspan></text>
<text transform="translate(197.3,244.5) scale(1,0.86)" font-size="10" text-anchor="start" fill="#111" stroke="#111" stroke-width="0.2" >R² = 0.37</text>
<g fill="none" stroke="#000" stroke-width="1.05">
<ellipse cx="345.07" cy="338.1" rx="2.55" ry="2.3"/>
<ellipse cx="348.43" cy="341.5" rx="2.55" ry="2.3"/>
<ellipse cx="341.2" cy="341.5" rx="2.55" ry="2.3"/>
<ellipse cx="369.43" cy="333.01" rx="2.55" ry="2.3"/>
<ellipse cx="337.96" cy="339.8" rx="2.55" ry="2.3"/>
<ellipse cx="337.3" cy="341.5" rx="2.55" ry="2.3"/>
<ellipse cx="346.29" cy="333.01" rx="2.55" ry="2.3"/>
<ellipse cx="337.86" cy="338.1" rx="2.55" ry="2.3"/>
<ellipse cx="350.13" cy="341.5" rx="2.55" ry="2.3"/>
<ellipse cx="341.47" cy="334.7" rx="2.55" ry="2.3"/>
<ellipse cx="340.94" cy="341.5" rx="2.55" ry="2.3"/>
<ellipse cx="342.36" cy="339.8" rx="2.55" ry="2.3"/>
<ellipse cx="343.26" cy="331.31" rx="2.55" ry="2.3"/>
<ellipse cx="342.53" cy="341.5" rx="2.55" ry="2.3"/>
<ellipse cx="339.5" cy="341.5" rx="2.55" ry="2.3"/>
<ellipse cx="359.21" cy="341.5" rx="2.55" ry="2.3"/>
<ellipse cx="336.6" cy="341.5" rx="2.55" ry="2.3"/>
<ellipse cx="372.15" cy="339.8" rx="2.55" ry="2.3"/>
<ellipse cx="342.2" cy="341.5" rx="2.55" ry="2.3"/>
<ellipse cx="376.06" cy="338.1" rx="2.55" ry="2.3"/>
<ellipse cx="363.71" cy="341.5" rx="2.55" ry="2.3"/>
<ellipse cx="332.44" cy="341.5" rx="2.55" ry="2.3"/>
<ellipse cx="359.07" cy="329.61" rx="2.55" ry="2.3"/>
<ellipse cx="366.18" cy="334.7" rx="2.55" ry="2.3"/>
<ellipse cx="357.49" cy="331.31" rx="2.55" ry="2.3"/>
<ellipse cx="348.65" cy="336.4" rx="2.55" ry="2.3"/>
<ellipse cx="338.03" cy="341.5" rx="2.55" ry="2.3"/>
<ellipse cx="359.59" cy="331.31" rx="2.55" ry="2.3"/>
<ellipse cx="334.44" cy="339.8" rx="2.55" ry="2.3"/>
<ellipse cx="342.67" cy="327.91" rx="2.55" ry="2.3"/>
<ellipse cx="357.37" cy="338.1" rx="2.55" ry="2.3"/>
<ellipse cx="356.79" cy="341.5" rx="2.55" ry="2.3"/>
<ellipse cx="349.03" cy="339.8" rx="2.55" ry="2.3"/>
<ellipse cx="338.1" cy="341.5" rx="2.55" ry="2.3"/>
<ellipse cx="341.41" cy="341.5" rx="2.55" ry="2.3"/>
<ellipse cx="338.69" cy="341.5" rx="2.55" ry="2.3"/>
<ellipse cx="341.71" cy="339.8" rx="2.55" ry="2.3"/>
<ellipse cx="351.29" cy="341.5" rx="2.55" ry="2.3"/>
<ellipse cx="346.29" cy="336.4" rx="2.55" ry="2.3"/>
<ellipse cx="345.17" cy="339.8" rx="2.55" ry="2.3"/>
<ellipse cx="361.59" cy="341.5" rx="2.55" ry="2.3"/>
<ellipse cx="336.66" cy="331.31" rx="2.55" ry="2.3"/>
<ellipse cx="340.92" cy="324.51" rx="2.55" ry="2.3"/>
<ellipse cx="375.86" cy="334.7" rx="2.55" ry="2.3"/>
<ellipse cx="350.77" cy="333.01" rx="2.55" ry="2.3"/>
<ellipse cx="337.61" cy="341.5" rx="2.55" ry="2.3"/>
<ellipse cx="336.99" cy="341.5" rx="2.55" ry="2.3"/>
<ellipse cx="356.43" cy="326.21" rx="2.55" ry="2.3"/>
<ellipse cx="333.26" cy="339.8" rx="2.55" ry="2.3"/>
<ellipse cx="340.48" cy="334.7" rx="2.55" ry="2.3"/>
<ellipse cx="335.15" cy="341.5" rx="2.55" ry="2.3"/>
<ellipse cx="345.59" cy="338.1" rx="2.55" ry="2.3"/>
<ellipse cx="343.1" cy="341.5" rx="2.55" ry="2.3"/>
<ellipse cx="349.52" cy="341.5" rx="2.55" ry="2.3"/>
<ellipse cx="371.96" cy="341.5" rx="2.55" ry="2.3"/>
<ellipse cx="345.55" cy="341.5" rx="2.55" ry="2.3"/>
<ellipse cx="347.88" cy="341.5" rx="2.55" ry="2.3"/>
<ellipse cx="365.13" cy="341.5" rx="2.55" ry="2.3"/>
<ellipse cx="360.73" cy="341.5" rx="2.55" ry="2.3"/>
<ellipse cx="338.66" cy="339.8" rx="2.55" ry="2.3"/>
<ellipse cx="344.17" cy="341.5" rx="2.55" ry="2.3"/>
<ellipse cx="356.54" cy="341.5" rx="2.55" ry="2.3"/>
<ellipse cx="340.36" cy="339.8" rx="2.55" ry="2.3"/>
<ellipse cx="362.94" cy="329.61" rx="2.55" ry="2.3"/>
<ellipse cx="342.51" cy="338.1" rx="2.55" ry="2.3"/>
<ellipse cx="356" cy="338.1" rx="2.55" ry="2.3"/>
<ellipse cx="351.27" cy="322.81" rx="2.55" ry="2.3"/>
<ellipse cx="336.87" cy="341.5" rx="2.55" ry="2.3"/>
<ellipse cx="379.59" cy="341.5" rx="2.55" ry="2.3"/>
<ellipse cx="332.78" cy="341.5" rx="2.55" ry="2.3"/>
<ellipse cx="349.7" cy="341.5" rx="2.55" ry="2.3"/>
<ellipse cx="356.93" cy="341.5" rx="2.55" ry="2.3"/>
<ellipse cx="347.85" cy="334.7" rx="2.55" ry="2.3"/>
<ellipse cx="349.57" cy="341.5" rx="2.55" ry="2.3"/>
<ellipse cx="367.1" cy="339.8" rx="2.55" ry="2.3"/>
<ellipse cx="365.9" cy="341.5" rx="2.55" ry="2.3"/>
<ellipse cx="336.78" cy="336.4" rx="2.55" ry="2.3"/>
<ellipse cx="342.9" cy="331.31" rx="2.55" ry="2.3"/>
<ellipse cx="358.14" cy="341.5" rx="2.55" ry="2.3"/>
<ellipse cx="339.82" cy="341.5" rx="2.55" ry="2.3"/>
<ellipse cx="333.16" cy="339.8" rx="2.55" ry="2.3"/>
<ellipse cx="341.33" cy="327.91" rx="2.55" ry="2.3"/>
<ellipse cx="349.72" cy="333.01" rx="2.55" ry="2.3"/>
<ellipse cx="363.52" cy="338.1" rx="2.55" ry="2.3"/>
<ellipse cx="335.94" cy="341.5" rx="2.55" ry="2.3"/>
<ellipse cx="362.99" cy="341.5" rx="2.55" ry="2.3"/>
<ellipse cx="343.44" cy="338.1" rx="2.55" ry="2.3"/>
<ellipse cx="348.9" cy="341.5" rx="2.55" ry="2.3"/>
<ellipse cx="335.46" cy="341.5" rx="2.55" ry="2.3"/>
<ellipse cx="347.3" cy="339.8" rx="2.55" ry="2.3"/>
<ellipse cx="349.49" cy="338.1" rx="2.55" ry="2.3"/>
<ellipse cx="351.91" cy="338.1" rx="2.55" ry="2.3"/>
<ellipse cx="346.28" cy="334.7" rx="2.55" ry="2.3"/>
<ellipse cx="344" cy="341.5" rx="2.55" ry="2.3"/>
<ellipse cx="352.83" cy="341.5" rx="2.55" ry="2.3"/>
<ellipse cx="347.28" cy="331.31" rx="2.55" ry="2.3"/>
<ellipse cx="341.69" cy="341.5" rx="2.55" ry="2.3"/>
<ellipse cx="335.72" cy="339.8" rx="2.55" ry="2.3"/>
<ellipse cx="342.81" cy="336.4" rx="2.55" ry="2.3"/>
<ellipse cx="339.22" cy="336.4" rx="2.55" ry="2.3"/>
<ellipse cx="340.75" cy="341.5" rx="2.55" ry="2.3"/>
<ellipse cx="341.93" cy="333.01" rx="2.55" ry="2.3"/>
<ellipse cx="334.23" cy="341.5" rx="2.55" ry="2.3"/>
<ellipse cx="352.83" cy="339.8" rx="2.55" ry="2.3"/>
<ellipse cx="331.61" cy="341.5" rx="2.55" ry="2.3"/>
<ellipse cx="332.28" cy="341.5" rx="2.55" ry="2.3"/>
<ellipse cx="342.53" cy="341.5" rx="2.55" ry="2.3"/>
<ellipse cx="335.04" cy="336.4" rx="2.55" ry="2.3"/>
<ellipse cx="349.92" cy="341.5" rx="2.55" ry="2.3"/>
<ellipse cx="359.79" cy="334.7" rx="2.55" ry="2.3"/>
<ellipse cx="346.01" cy="341.5" rx="2.55" ry="2.3"/>
<ellipse cx="355.55" cy="341.5" rx="2.55" ry="2.3"/>
<ellipse cx="347.96" cy="339.8" rx="2.55" ry="2.3"/>
<ellipse cx="340.22" cy="327.91" rx="2.55" ry="2.3"/>
<ellipse cx="343.95" cy="341.5" rx="2.55" ry="2.3"/>
<ellipse cx="352.46" cy="334.7" rx="2.55" ry="2.3"/>
<ellipse cx="355.05" cy="326.21" rx="2.55" ry="2.3"/>
<ellipse cx="348.45" cy="333.01" rx="2.55" ry="2.3"/>
<ellipse cx="349.68" cy="341.5" rx="2.55" ry="2.3"/>
<ellipse cx="372.83" cy="339.8" rx="2.55" ry="2.3"/>
<ellipse cx="344.96" cy="341.5" rx="2.55" ry="2.3"/>
<ellipse cx="352.05" cy="341.5" rx="2.55" ry="2.3"/>
<ellipse cx="336.98" cy="333.01" rx="2.55" ry="2.3"/>
<ellipse cx="367.97" cy="338.1" rx="2.55" ry="2.3"/>
<ellipse cx="334.3" cy="341.5" rx="2.55" ry="2.3"/>
<ellipse cx="372.38" cy="339.8" rx="2.55" ry="2.3"/>
<ellipse cx="333.43" cy="334.7" rx="2.55" ry="2.3"/>
<ellipse cx="374.03" cy="341.5" rx="2.55" ry="2.3"/>
<ellipse cx="346.51" cy="341.5" rx="2.55" ry="2.3"/>
<ellipse cx="361.31" cy="341.5" rx="2.55" ry="2.3"/>
<ellipse cx="354.75" cy="336.4" rx="2.55" ry="2.3"/>
<ellipse cx="337.53" cy="341.5" rx="2.55" ry="2.3"/>
<ellipse cx="340.79" cy="331.31" rx="2.55" ry="2.3"/>
<ellipse cx="343.6" cy="329.61" rx="2.55" ry="2.3"/>
<ellipse cx="344.36" cy="331.31" rx="2.55" ry="2.3"/>
<ellipse cx="344.34" cy="339.8" rx="2.55" ry="2.3"/>
<ellipse cx="363.91" cy="331.31" rx="2.55" ry="2.3"/>
<ellipse cx="361.8" cy="338.1" rx="2.55" ry="2.3"/>
<ellipse cx="333.65" cy="341.5" rx="2.55" ry="2.3"/>
<ellipse cx="337.38" cy="333.01" rx="2.55" ry="2.3"/>
<ellipse cx="336.66" cy="334.7" rx="2.55" ry="2.3"/>
<ellipse cx="332.09" cy="341.5" rx="2.55" ry="2.3"/>
<ellipse cx="354.58" cy="322.81" rx="2.55" ry="2.3"/>
<ellipse cx="347.68" cy="341.5" rx="2.55" ry="2.3"/>
<ellipse cx="354.68" cy="334.7" rx="2.55" ry="2.3"/>
<ellipse cx="343.01" cy="341.5" rx="2.55" ry="2.3"/>
<ellipse cx="360.33" cy="341.5" rx="2.55" ry="2.3"/>
<ellipse cx="380.94" cy="334.7" rx="2.55" ry="2.3"/>
<ellipse cx="338.79" cy="341.5" rx="2.55" ry="2.3"/>
<ellipse cx="349.12" cy="336.4" rx="2.55" ry="2.3"/>
<ellipse cx="372.27" cy="341.5" rx="2.55" ry="2.3"/>
<ellipse cx="350.88" cy="341.5" rx="2.55" ry="2.3"/>
<ellipse cx="348.93" cy="322.81" rx="2.55" ry="2.3"/>
<ellipse cx="348.39" cy="341.5" rx="2.55" ry="2.3"/>
<ellipse cx="352.4" cy="339.8" rx="2.55" ry="2.3"/>
<ellipse cx="342.5" cy="341.5" rx="2.55" ry="2.3"/>
<ellipse cx="340.47" cy="336.4" rx="2.55" ry="2.3"/>
<ellipse cx="350.77" cy="341.5" rx="2.55" ry="2.3"/>
<ellipse cx="345.5" cy="341.5" rx="2.55" ry="2.3"/>
<ellipse cx="336.31" cy="341.5" rx="2.55" ry="2.3"/>
<ellipse cx="332.52" cy="341.5" rx="2.55" ry="2.3"/>
<ellipse cx="347.36" cy="341.5" rx="2.55" ry="2.3"/>
<ellipse cx="341.8" cy="334.7" rx="2.55" ry="2.3"/>
<ellipse cx="345.46" cy="341.5" rx="2.55" ry="2.3"/>
<ellipse cx="357.47" cy="341.5" rx="2.55" ry="2.3"/>
<ellipse cx="372.16" cy="341.5" rx="2.55" ry="2.3"/>
<ellipse cx="351.57" cy="338.1" rx="2.55" ry="2.3"/>
<ellipse cx="345.4" cy="336.4" rx="2.55" ry="2.3"/>
<ellipse cx="348.21" cy="336.4" rx="2.55" ry="2.3"/>
<ellipse cx="336.11" cy="338.1" rx="2.55" ry="2.3"/>
<ellipse cx="342.56" cy="322.81" rx="2.55" ry="2.3"/>
<ellipse cx="371.13" cy="341.5" rx="2.55" ry="2.3"/>
<ellipse cx="336.55" cy="341.5" rx="2.55" ry="2.3"/>
<ellipse cx="332.29" cy="341.5" rx="2.55" ry="2.3"/>
<ellipse cx="341.34" cy="324.51" rx="2.55" ry="2.3"/>
<ellipse cx="351.19" cy="341.5" rx="2.55" ry="2.3"/>
<ellipse cx="333.78" cy="341.5" rx="2.55" ry="2.3"/>
<ellipse cx="335.09" cy="339.8" rx="2.55" ry="2.3"/>
<ellipse cx="340.77" cy="341.5" rx="2.55" ry="2.3"/>
<ellipse cx="355.34" cy="341.5" rx="2.55" ry="2.3"/>
<ellipse cx="366.39" cy="331.31" rx="2.55" ry="2.3"/>
<ellipse cx="334.97" cy="341.5" rx="2.55" ry="2.3"/>
<ellipse cx="342.98" cy="336.4" rx="2.55" ry="2.3"/>
<ellipse cx="338.41" cy="339.8" rx="2.55" ry="2.3"/>
<ellipse cx="336.9" cy="341.5" rx="2.55" ry="2.3"/>
<ellipse cx="346.02" cy="339.8" rx="2.55" ry="2.3"/>
<ellipse cx="333.23" cy="339.8" rx="2.55" ry="2.3"/>
<ellipse cx="360.09" cy="338.1" rx="2.55" ry="2.3"/>
<ellipse cx="346.31" cy="334.7" rx="2.55" ry="2.3"/>
<ellipse cx="336.49" cy="341.5" rx="2.55" ry="2.3"/>
<ellipse cx="370.17" cy="339.8" rx="2.55" ry="2.3"/>
<ellipse cx="336.5" cy="341.5" rx="2.55" ry="2.3"/>
<ellipse cx="337.44" cy="338.1" rx="2.55" ry="2.3"/>
<ellipse cx="339.49" cy="338.1" rx="2.55" ry="2.3"/>
<ellipse cx="344.25" cy="341.5" rx="2.55" ry="2.3"/>
<ellipse cx="365.95" cy="336.4" rx="2.55" ry="2.3"/>
<ellipse cx="340.06" cy="339.8" rx="2.55" ry="2.3"/>
<ellipse cx="339.38" cy="341.5" rx="2.55" ry="2.3"/>
<ellipse cx="348.1" cy="326.21" rx="2.55" ry="2.3"/>
<ellipse cx="336.19" cy="339.8" rx="2.55" ry="2.3"/>
<ellipse cx="343.92" cy="331.31" rx="2.55" ry="2.3"/>
<ellipse cx="347.24" cy="331.31" rx="2.55" ry="2.3"/>
<ellipse cx="357.37" cy="339.8" rx="2.55" ry="2.3"/>
<ellipse cx="336.24" cy="333.01" rx="2.55" ry="2.3"/>
<ellipse cx="335.02" cy="334.7" rx="2.55" ry="2.3"/>
<ellipse cx="365.74" cy="333.01" rx="2.55" ry="2.3"/>
<ellipse cx="350.6" cy="331.31" rx="2.55" ry="2.3"/>
<ellipse cx="353.28" cy="341.5" rx="2.55" ry="2.3"/>
<ellipse cx="353.09" cy="341.5" rx="2.55" ry="2.3"/>
<ellipse cx="336.61" cy="339.8" rx="2.55" ry="2.3"/>
<ellipse cx="363.24" cy="326.21" rx="2.55" ry="2.3"/>
<ellipse cx="355.52" cy="336.4" rx="2.55" ry="2.3"/>
<ellipse cx="336.82" cy="336.4" rx="2.55" ry="2.3"/>
<ellipse cx="352.24" cy="333.01" rx="2.55" ry="2.3"/>
<ellipse cx="364.18" cy="341.5" rx="2.55" ry="2.3"/>
<ellipse cx="374.68" cy="341.5" rx="2.55" ry="2.3"/>
<ellipse cx="339.95" cy="341.5" rx="2.55" ry="2.3"/>
<ellipse cx="358.45" cy="341.5" rx="2.55" ry="2.3"/>
<ellipse cx="352.93" cy="341.5" rx="2.55" ry="2.3"/>
<ellipse cx="344.61" cy="341.5" rx="2.55" ry="2.3"/>
<ellipse cx="338.74" cy="341.5" rx="2.55" ry="2.3"/>
<ellipse cx="349.91" cy="336.4" rx="2.55" ry="2.3"/>
<ellipse cx="342.22" cy="329.61" rx="2.55" ry="2.3"/>
<ellipse cx="351.47" cy="333.01" rx="2.55" ry="2.3"/>
<ellipse cx="367.42" cy="339.8" rx="2.55" ry="2.3"/>
<ellipse cx="344.05" cy="339.8" rx="2.55" ry="2.3"/>
<ellipse cx="349.84" cy="341.5" rx="2.55" ry="2.3"/>
<ellipse cx="344.19" cy="341.5" rx="2.55" ry="2.3"/>
<ellipse cx="338.54" cy="338.1" rx="2.55" ry="2.3"/>
<ellipse cx="352.07" cy="341.5" rx="2.55" ry="2.3"/>
<ellipse cx="338.18" cy="339.8" rx="2.55" ry="2.3"/>
<ellipse cx="356.65" cy="324.51" rx="2.55" ry="2.3"/>
<ellipse cx="343.06" cy="334.7" rx="2.55" ry="2.3"/>
<ellipse cx="337.14" cy="341.5" rx="2.55" ry="2.3"/>
<ellipse cx="369.37" cy="341.5" rx="2.55" ry="2.3"/>
<ellipse cx="347.15" cy="339.8" rx="2.55" ry="2.3"/>
<ellipse cx="337.46" cy="339.8" rx="2.55" ry="2.3"/>
<ellipse cx="337.45" cy="339.8" rx="2.55" ry="2.3"/>
<ellipse cx="336.82" cy="334.7" rx="2.55" ry="2.3"/>
<ellipse cx="350.55" cy="341.5" rx="2.55" ry="2.3"/>
<ellipse cx="332.92" cy="341.5" rx="2.55" ry="2.3"/>
<ellipse cx="352.06" cy="339.8" rx="2.55" ry="2.3"/>
<ellipse cx="333.52" cy="339.8" rx="2.55" ry="2.3"/>
<ellipse cx="344.87" cy="334.7" rx="2.55" ry="2.3"/>
<ellipse cx="343.74" cy="336.4" rx="2.55" ry="2.3"/>
<ellipse cx="349.05" cy="338.1" rx="2.55" ry="2.3"/>
<ellipse cx="349.68" cy="341.5" rx="2.55" ry="2.3"/>
<ellipse cx="334.04" cy="341.5" rx="2.55" ry="2.3"/>
<ellipse cx="363.38" cy="341.5" rx="2.55" ry="2.3"/>
<ellipse cx="382.55" cy="341.5" rx="2.55" ry="2.3"/>
<ellipse cx="363.97" cy="338.1" rx="2.55" ry="2.3"/>
<ellipse cx="343.26" cy="341.5" rx="2.55" ry="2.3"/>
<ellipse cx="336.65" cy="338.1" rx="2.55" ry="2.3"/>
<ellipse cx="336.44" cy="329.61" rx="2.55" ry="2.3"/>
<ellipse cx="358.26" cy="333.01" rx="2.55" ry="2.3"/>
<ellipse cx="352.82" cy="341.5" rx="2.55" ry="2.3"/>
<ellipse cx="341.96" cy="339.8" rx="2.55" ry="2.3"/>
<ellipse cx="348.24" cy="341.5" rx="2.55" ry="2.3"/>
<ellipse cx="345.75" cy="341.5" rx="2.55" ry="2.3"/>
<ellipse cx="363.51" cy="333.01" rx="2.55" ry="2.3"/>
<ellipse cx="336.59" cy="341.5" rx="2.55" ry="2.3"/>
<ellipse cx="341.9" cy="341.5" rx="2.55" ry="2.3"/>
<ellipse cx="339.58" cy="333.01" rx="2.55" ry="2.3"/>
<ellipse cx="354.54" cy="341.5" rx="2.55" ry="2.3"/>
<ellipse cx="340.14" cy="341.5" rx="2.55" ry="2.3"/>
<ellipse cx="337.67" cy="341.5" rx="2.55" ry="2.3"/>
<ellipse cx="343.88" cy="339.8" rx="2.55" ry="2.3"/>
<ellipse cx="338.45" cy="334.7" rx="2.55" ry="2.3"/>
<ellipse cx="341.24" cy="341.5" rx="2.55" ry="2.3"/>
<ellipse cx="371.01" cy="341.5" rx="2.55" ry="2.3"/>
<ellipse cx="340.03" cy="341.5" rx="2.55" ry="2.3"/>
<ellipse cx="337.29" cy="339.8" rx="2.55" ry="2.3"/>
<ellipse cx="344" cy="341.5" rx="2.55" ry="2.3"/>
<ellipse cx="343.42" cy="341.5" rx="2.55" ry="2.3"/>
<ellipse cx="341.59" cy="338.1" rx="2.55" ry="2.3"/>
<ellipse cx="333.89" cy="341.5" rx="2.55" ry="2.3"/>
<ellipse cx="367.25" cy="333.01" rx="2.55" ry="2.3"/>
<ellipse cx="341.69" cy="341.5" rx="2.55" ry="2.3"/>
<ellipse cx="335.66" cy="341.5" rx="2.55" ry="2.3"/>
<ellipse cx="356.59" cy="329.61" rx="2.55" ry="2.3"/>
<ellipse cx="356.81" cy="327.91" rx="2.55" ry="2.3"/>
<ellipse cx="334.17" cy="341.5" rx="2.55" ry="2.3"/>
<ellipse cx="339.59" cy="338.1" rx="2.55" ry="2.3"/>
<ellipse cx="342.2" cy="341.5" rx="2.55" ry="2.3"/>
<ellipse cx="339.03" cy="333.01" rx="2.55" ry="2.3"/>
<ellipse cx="352.3" cy="333.01" rx="2.55" ry="2.3"/>
<ellipse cx="350.64" cy="324.51" rx="2.55" ry="2.3"/>
<ellipse cx="335.88" cy="341.5" rx="2.55" ry="2.3"/>
<ellipse cx="360.54" cy="329.61" rx="2.55" ry="2.3"/>
<ellipse cx="343.82" cy="341.5" rx="2.55" ry="2.3"/>
<ellipse cx="340.75" cy="336.4" rx="2.55" ry="2.3"/>
<ellipse cx="354.83" cy="341.5" rx="2.55" ry="2.3"/>
<ellipse cx="348.7" cy="341.5" rx="2.55" ry="2.3"/>
<ellipse cx="378.12" cy="341.5" rx="2.55" ry="2.3"/>
<ellipse cx="360.64" cy="331.31" rx="2.55" ry="2.3"/>
<ellipse cx="341.37" cy="341.5" rx="2.55" ry="2.3"/>
<ellipse cx="363.25" cy="341.5" rx="2.55" ry="2.3"/>
<ellipse cx="331.71" cy="341.5" rx="2.55" ry="2.3"/>
<ellipse cx="337.05" cy="341.5" rx="2.55" ry="2.3"/>
<ellipse cx="366.79" cy="339.8" rx="2.55" ry="2.3"/>
<ellipse cx="365.34" cy="336.4" rx="2.55" ry="2.3"/>
<ellipse cx="357.51" cy="341.5" rx="2.55" ry="2.3"/>
<ellipse cx="343.98" cy="331.31" rx="2.55" ry="2.3"/>
<ellipse cx="341.57" cy="341.5" rx="2.55" ry="2.3"/>
<ellipse cx="334.62" cy="333.01" rx="2.55" ry="2.3"/>
<ellipse cx="338.51" cy="341.5" rx="2.55" ry="2.3"/>
<ellipse cx="344.88" cy="333.01" rx="2.55" ry="2.3"/>
<ellipse cx="332.38" cy="341.5" rx="2.55" ry="2.3"/>
<ellipse cx="347.33" cy="339.8" rx="2.55" ry="2.3"/>
<ellipse cx="364.11" cy="339.8" rx="2.55" ry="2.3"/>
<ellipse cx="337.2" cy="341.5" rx="2.55" ry="2.3"/>
<ellipse cx="355.13" cy="327.91" rx="2.55" ry="2.3"/>
<ellipse cx="357.33" cy="331.31" rx="2.55" ry="2.3"/>
<ellipse cx="351.67" cy="341.5" rx="2.55" ry="2.3"/>
<ellipse cx="332.79" cy="341.5" rx="2.55" ry="2.3"/>
<ellipse cx="334.71" cy="333.01" rx="2.55" ry="2.3"/>
<ellipse cx="344.39" cy="341.5" rx="2.55" ry="2.3"/>
<ellipse cx="343.38" cy="339.8" rx="2.55" ry="2.3"/>
<ellipse cx="347.01" cy="341.5" rx="2.55" ry="2.3"/>
<ellipse cx="349.54" cy="341.5" rx="2.55" ry="2.3"/>
<ellipse cx="338.5" cy="339.8" rx="2.55" ry="2.3"/>
<ellipse cx="368.76" cy="336.4" rx="2.55" ry="2.3"/>
<ellipse cx="359.74" cy="338.1" rx="2.55" ry="2.3"/>
<ellipse cx="343.52" cy="339.8" rx="2.55" ry="2.3"/>
<ellipse cx="347.51" cy="341.5" rx="2.55" ry="2.3"/>
<ellipse cx="342.8" cy="338.1" rx="2.55" ry="2.3"/>
<ellipse cx="341.76" cy="341.5" rx="2.55" ry="2.3"/>
<ellipse cx="337.06" cy="341.5" rx="2.55" ry="2.3"/>
<ellipse cx="368.78" cy="341.5" rx="2.55" ry="2.3"/>
<ellipse cx="362.81" cy="333.01" rx="2.55" ry="2.3"/>
<ellipse cx="342.79" cy="329.61" rx="2.55" ry="2.3"/>
<ellipse cx="340.49" cy="341.5" rx="2.55" ry="2.3"/>
<ellipse cx="347.62" cy="327.91" rx="2.55" ry="2.3"/>
<ellipse cx="363.62" cy="339.8" rx="2.55" ry="2.3"/>
<ellipse cx="361.45" cy="341.5" rx="2.55" ry="2.3"/>
<ellipse cx="377.4" cy="216" rx="2.55" ry="2.3"/>
<ellipse cx="381.6" cy="239.6" rx="2.55" ry="2.3"/>
<ellipse cx="365" cy="258.6" rx="2.55" ry="2.3"/>
<ellipse cx="370.8" cy="258.6" rx="2.55" ry="2.3"/>
<ellipse cx="385.2" cy="263.8" rx="2.55" ry="2.3"/>
<ellipse cx="414" cy="254.8" rx="2.55" ry="2.3"/>
<ellipse cx="354" cy="275.4" rx="2.55" ry="2.3"/>
<ellipse cx="366.4" cy="279" rx="2.55" ry="2.3"/>
<ellipse cx="377.4" cy="284" rx="2.55" ry="2.3"/>
<ellipse cx="358.6" cy="285.6" rx="2.55" ry="2.3"/>
<ellipse cx="361.2" cy="289" rx="2.55" ry="2.3"/>
<ellipse cx="337" cy="289" rx="2.55" ry="2.3"/>
<ellipse cx="372.6" cy="290.4" rx="2.55" ry="2.3"/>
<ellipse cx="384.8" cy="289" rx="2.55" ry="2.3"/>
<ellipse cx="380.4" cy="294" rx="2.55" ry="2.3"/>
<ellipse cx="385.6" cy="296" rx="2.55" ry="2.3"/>
<ellipse cx="377.2" cy="299.4" rx="2.55" ry="2.3"/>
<ellipse cx="410.4" cy="299.4" rx="2.55" ry="2.3"/>
<ellipse cx="345.4" cy="301" rx="2.55" ry="2.3"/>
<ellipse cx="371.4" cy="306" rx="2.55" ry="2.3"/>
<ellipse cx="379" cy="306" rx="2.55" ry="2.3"/>
<ellipse cx="354" cy="311" rx="2.55" ry="2.3"/>
<ellipse cx="372" cy="313" rx="2.55" ry="2.3"/>
<ellipse cx="353.6" cy="315" rx="2.55" ry="2.3"/>
<ellipse cx="355.6" cy="316" rx="2.55" ry="2.3"/>
<ellipse cx="366.4" cy="317.6" rx="2.55" ry="2.3"/>
<ellipse cx="366.8" cy="317.8" rx="2.55" ry="2.3"/>
<ellipse cx="384.8" cy="316.6" rx="2.55" ry="2.3"/>
<ellipse cx="385.2" cy="318" rx="2.55" ry="2.3"/>
<ellipse cx="399.2" cy="318" rx="2.55" ry="2.3"/>
<ellipse cx="385.2" cy="321.6" rx="2.55" ry="2.3"/>
<ellipse cx="369" cy="322.4" rx="2.55" ry="2.3"/>
<ellipse cx="338.6" cy="321.6" rx="2.55" ry="2.3"/>
<ellipse cx="345" cy="320.4" rx="2.55" ry="2.3"/>
<ellipse cx="352.4" cy="321.6" rx="2.55" ry="2.3"/>
<ellipse cx="383" cy="330" rx="2.55" ry="2.3"/>
<ellipse cx="382" cy="335" rx="2.55" ry="2.3"/>
<ellipse cx="379" cy="339" rx="2.55" ry="2.3"/>
<ellipse cx="442" cy="306" rx="2.55" ry="2.3"/>
<ellipse cx="454.1" cy="294" rx="2.55" ry="2.3"/>
<ellipse cx="484.9" cy="302.3" rx="2.55" ry="2.3"/>
</g>
<path d="M370.76,337.58 L372.67,337.3 L374.58,337.01 L376.48,336.72 L378.39,336.42 L380.3,336.12 L382.21,335.81 L384.11,335.5 L386.02,335.18 L387.93,334.85 L389.84,334.52 L391.74,334.18 L393.65,333.84 L395.56,333.49 L397.47,333.14 L399.37,332.78 L401.28,332.42 L403.19,332.05 L405.1,331.68 L407,331.3 L408.91,330.91 L410.82,330.53 L412.73,330.14 L414.63,329.74 L416.54,329.34 L418.45,328.93 L420.36,328.52 L422.26,328.11 L424.17,327.69 L426.08,327.27 L427.99,326.84 L429.89,326.41 L431.8,325.97 L433.71,325.53 L435.62,325.09 L437.53,324.64 L439.43,324.18 L441.34,323.73 L443.25,323.27 L445.16,322.8 L447.06,322.33 L448.97,321.86 L450.88,321.39 L452.79,320.91 L454.69,320.42 L456.6,319.93 L458.51,319.44 L460.42,318.95 L462.32,318.45 L464.23,317.95 L466.14,317.44 L468.05,316.93 L469.95,316.42 L471.86,315.9 L473.77,315.38 L475.68,314.86 L477.58,314.33 L479.49,313.8 L481.4,313.26 L483.31,312.73 L485.21,312.18" fill="none" stroke="#111" stroke-width="1.1"/>
<path d="M329.7,341.5 L329.7,205.6 L535.0,205.6 L535.0,341.5 Z" fill="none" stroke="#111" stroke-width="1.1"/>
<path d="M329.7,342.0 L329.7,205.1" fill="none" stroke="#1a1a1a" stroke-width="1.35"/>
<text transform="translate(329.1,355) scale(1,0.92)" font-size="9.7" text-anchor="middle" fill="#111" stroke="#111" stroke-width="0.2" >0</text>
<text transform="translate(380.42,355) scale(1,0.92)" font-size="9.7" text-anchor="middle" fill="#111" stroke="#111" stroke-width="0.2" >10</text>
<text transform="translate(431.75,355) scale(1,0.92)" font-size="9.7" text-anchor="middle" fill="#111" stroke="#111" stroke-width="0.2" >20</text>
<text transform="translate(483.07,355) scale(1,0.92)" font-size="9.7" text-anchor="middle" fill="#111" stroke="#111" stroke-width="0.2" >30</text>
<text transform="translate(534.4,355) scale(1,0.92)" font-size="9.7" text-anchor="middle" fill="#111" stroke="#111" stroke-width="0.2" >40</text>
<text transform="translate(321.3,344.2) scale(1,0.92)" font-size="9.7" text-anchor="end" fill="#111" stroke="#111" stroke-width="0.2" >0</text>
<text transform="translate(321.3,310.22) scale(1,0.92)" font-size="9.7" text-anchor="end" fill="#111" stroke="#111" stroke-width="0.2" >20</text>
<text transform="translate(321.3,276.25) scale(1,0.92)" font-size="9.7" text-anchor="end" fill="#111" stroke="#111" stroke-width="0.2" >40</text>
<text transform="translate(321.3,242.27) scale(1,0.92)" font-size="9.7" text-anchor="end" fill="#111" stroke="#111" stroke-width="0.2" >60</text>
<text transform="translate(321.3,208.3) scale(1,0.92)" font-size="9.7" text-anchor="end" fill="#111" stroke="#111" stroke-width="0.2" >80</text>
<path d="M329.7,341.5 v3 M381.02,341.5 v3 M432.35,341.5 v3 M483.68,341.5 v3 M535,341.5 v3 M329.7,341.5 h-3 M329.7,307.52 h-3 M329.7,273.55 h-3 M329.7,239.57 h-3 M329.7,205.6 h-3" fill="none" stroke="#111" stroke-width="1"/>
<text transform="translate(432.75,369.1) scale(1,0.88)" font-size="10.75" text-anchor="middle" fill="#111" stroke="#111" stroke-width="0.2" >Population (million)</text>
<text transform="translate(293,331.9) rotate(-90)" font-size="10.5" textLength="116.9" lengthAdjust="spacingAndGlyphs" fill="#111" stroke="#111" stroke-width="0.2">Number of nonstate-owned</text>
<text transform="translate(305.3,294.2) rotate(-90)" font-size="10.5" textLength="40.15" lengthAdjust="spacingAndGlyphs" fill="#111" stroke="#111" stroke-width="0.2">museums</text>
<text transform="translate(345.6,221.1) scale(1,0.9)" font-size="14.5" text-anchor="start" fill="#111" stroke="#111" stroke-width="0.2" >d</text>
<text transform="translate(462.5,257.1) scale(1,0.86)" font-size="10" text-anchor="start" fill="#111" stroke="#111" stroke-width="0.2" >y = 0.10<tspan dx="1">x</tspan><tspan font-size="6.7" dx="0.7" dy="-4.4" fill="#444" stroke="none">1.51</tspan></text>
<text transform="translate(470,266.1) scale(1,0.86)" font-size="10" text-anchor="start" fill="#111" stroke="#111" stroke-width="0.2" >R² = 0.19</text>
</g>
</svg>
</body></html>
